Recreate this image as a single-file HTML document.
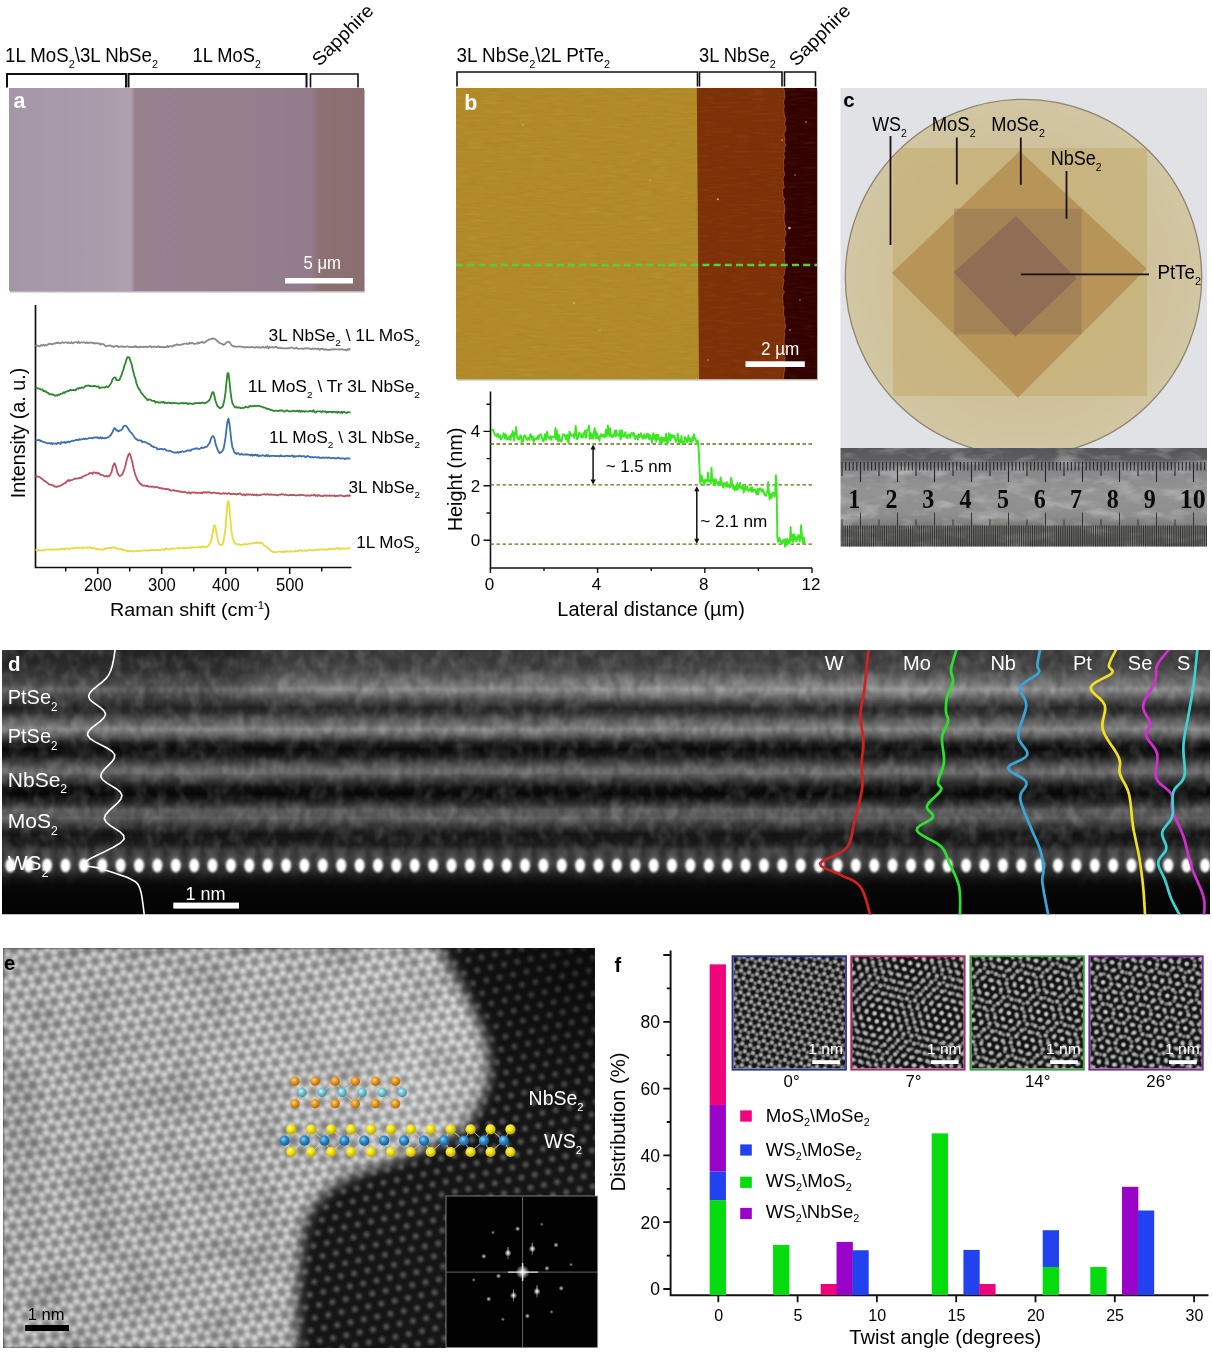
<!DOCTYPE html>
<html><head><meta charset="utf-8"><title>Figure</title>
<style>
html,body{margin:0;padding:0;background:#fff;}
body{width:1212px;height:1365px;overflow:hidden;}
svg{display:block;}
svg text{font-family:'Liberation Sans', Arial, Helvetica, sans-serif;}
</style></head>
<body>
<svg width="1212" height="1365" viewBox="0 0 1212 1365">
<rect width="1212" height="1365" fill="#fff"/>
<text x="5" y="61.8" font-size="19.8" textLength="153" lengthAdjust="spacingAndGlyphs">1L MoS<tspan dy="6.34" font-size="11.48">2</tspan><tspan dy="-6.34">\3L NbSe</tspan><tspan dy="6.34" font-size="11.48">2</tspan></text>
<text x="192.6" y="61.5" font-size="19.6" textLength="68.3" lengthAdjust="spacingAndGlyphs">1L MoS<tspan dy="6.27" font-size="11.37">2</tspan></text>
<text x="0" y="0" font-size="18.5" textLength="78" lengthAdjust="spacingAndGlyphs" transform="translate(319.5,67) rotate(-45)">Sapphire</text>
<path d="M7,87.5V74H126V87.5" fill="none" stroke="#111" stroke-width="2"/>
<path d="M128.5,87.5V74H306.5V87.5" fill="none" stroke="#111" stroke-width="2"/>
<path d="M310.5,87.5V74H358V87.5" fill="none" stroke="#111" stroke-width="1.6"/>
<rect x="10" y="89.5" width="355" height="203" fill="#7a6a72" opacity="0.5"/>
<linearGradient id="ga" x1="9" x2="364" y1="0" y2="0" gradientUnits="userSpaceOnUse"><stop offset="0.0000" stop-color="#a596a8"/><stop offset="0.1437" stop-color="#a899aa"/><stop offset="0.2901" stop-color="#aa9cab"/><stop offset="0.3127" stop-color="#ae9fae"/><stop offset="0.3437" stop-color="#ad9fad"/><stop offset="0.3549" stop-color="#98808f"/><stop offset="0.5380" stop-color="#96808e"/><stop offset="0.8197" stop-color="#937c8b"/><stop offset="0.8507" stop-color="#927a8a"/><stop offset="0.8732" stop-color="#8d7170"/><stop offset="1.0000" stop-color="#8b6f6e"/></linearGradient>
<rect x="9" y="88" width="355" height="203" fill="url(#ga)"/>
<text x="13.5" y="108" font-size="21.5" fill="#fff" font-weight="bold">a</text>
<rect x="285" y="278" width="68" height="5.5" fill="#fff"/>
<text x="303.5" y="268.7" font-size="17.5" fill="#fff" textLength="37.5" lengthAdjust="spacingAndGlyphs">5 μm</text>
<path d="M35.5,305V567.5H351.5" fill="none" stroke="#111" stroke-width="1.7"/>
<path d="M65.7,567.5v4M97.7,567.5v6.5M129.7,567.5v4M161.7,567.5v6.5M193.7,567.5v4M225.7,567.5v6.5M257.7,567.5v4M289.7,567.5v6.5M321.7,567.5v4" stroke="#111" stroke-width="1.5"/>
<text x="97.9" y="590.6" font-size="17.5" text-anchor="middle" textLength="27.7" lengthAdjust="spacingAndGlyphs">200</text>
<text x="161.9" y="590.6" font-size="17.5" text-anchor="middle" textLength="27.7" lengthAdjust="spacingAndGlyphs">300</text>
<text x="225.9" y="590.6" font-size="17.5" text-anchor="middle" textLength="27.7" lengthAdjust="spacingAndGlyphs">400</text>
<text x="289.9" y="590.6" font-size="17.5" text-anchor="middle" textLength="27.7" lengthAdjust="spacingAndGlyphs">500</text>
<text x="110.1" y="616.4" font-size="19" textLength="160.5" lengthAdjust="spacingAndGlyphs">Raman shift (cm<tspan dy="-7.22" font-size="11.02">-1</tspan><tspan dy="7.22">)</tspan></text>
<text x="0" y="0" font-size="20.8" textLength="130.7" lengthAdjust="spacingAndGlyphs" transform="translate(24.6,498.3) rotate(-90)">Intensity (a. u.)</text>
<path d="M35.5,346.2L36.5,345.3 37.5,345.6 38.5,345.9 39.5,346.4 40.5,345.7 41.5,344.9 42.5,345.6 43.5,344.8 44.5,345.6 45.5,344.9 46.5,345.5 47.5,344.6 48.5,344.1 49.5,343.7 50.5,344 51.5,344.1 52.5,344.3 53.5,343.7 54.5,343.2 55.5,343.5 56.5,342.6 57.5,343.2 58.5,342.6 59.5,343.4 60.5,343.1 61.5,342.8 62.5,342.2 63.5,342.8 64.5,342.7 65.5,342.4 66.5,342.3 67.5,343.1 68.5,342.4 69.5,342.8 70.5,343.2 71.5,342 72.5,343.3 73.5,343 74.5,342.3 75.5,342.2 76.5,342.1 77.5,343 78.5,341.6 79.5,343 80.5,342.7 81.5,342.3 82.5,342.4 83.5,342.4 84.5,342.5 85.5,343 86.5,342.3 87.5,343 88.5,343 89.5,342.5 90.5,342.9 91.5,342.5 92.5,342.8 93.5,343 94.5,343.7 95.5,343.1 96.5,343.2 97.5,343.4 98.5,343.5 99.5,343.3 100.5,344.7 101.5,343.8 102.5,344.1 103.5,344.2 104.5,345 105.5,346.1 106.5,346.3 107.5,345.7 108.5,345.6 109.5,345.7 110.5,345.4 111.5,346.3 112.5,346.1 113.5,347.2 114.5,346.3 115.5,346.1 116.5,345.9 117.5,346 118.5,347 119.5,346.9 120.5,346.3 121.5,346.2 122.5,346.9 123.5,346.7 124.5,346.9 125.5,346.8 126.5,346.5 127.5,346.1 128.5,346.9 129.5,346.9 130.5,346.9 131.5,347.2 132.5,347.2 133.5,346.6 134.5,347.1 135.5,346 136.5,347.1 137.5,346.9 138.5,347.3 139.5,347.3 140.5,346.5 141.5,346.8 142.5,347.3 143.5,346.7 144.5,346.9 145.5,346.7 146.5,347.2 147.5,347.1 148.5,346.6 149.5,346.4 150.5,346.1 151.5,347.3 152.5,346.8 153.5,346.7 154.5,346.8 155.5,346.6 156.5,347.2 157.5,347.2 158.5,346.1 159.5,347 160.5,347 161.5,346.8 162.5,347 163.5,347.6 164.5,347 165.5,347.2 166.5,347.1 167.5,345.9 168.5,347.1 169.5,346.4 170.5,346 171.5,346.3 172.5,346.7 173.5,345.3 174.5,345.2 175.5,345.4 176.5,344.4 177.5,344.5 178.5,344.8 179.5,344.9 180.5,344.6 181.5,344.6 182.5,344.5 183.5,343.8 184.5,343.7 185.5,343.6 186.5,343.5 187.5,344 188.5,343.8 189.5,342.6 190.5,343.6 191.5,342.9 192.5,342.9 193.5,343.8 194.5,343.8 195.5,343.6 196.5,343.4 197.5,343.7 198.5,342.4 199.5,343.1 200.5,342.4 201.5,342.3 202.5,341.7 203.5,342.8 204.5,342.6 205.5,341.9 206.5,340.9 207.5,340.7 208.5,339.6 209.5,339.3 210.5,339.4 211.5,338.9 212.5,338.3 213.5,338.5 214.5,338.6 215.5,339.6 216.5,340.2 217.5,341.4 218.5,341.7 219.5,343.1 220.5,343.2 221.5,343.8 222.5,344 223.5,344.9 224.5,344.5 225.5,343.3 226.5,342.4 227.5,342.1 228.5,341.6 229.5,342.2 230.5,343.6 231.5,345.4 232.5,345.6 233.5,346.7 234.5,346.2 235.5,346.5 236.5,346.8 237.5,346.7 238.5,346.6 239.5,346.4 240.5,346.7 241.5,346.7 242.5,346.9 243.5,347.3 244.5,347.1 245.5,347.4 246.5,347 247.5,347.2 248.5,347.2 249.5,347.3 250.5,347.4 251.5,346.8 252.5,347.2 253.5,347.2 254.5,347.6 255.5,347.5 256.5,346.9 257.5,347.3 258.5,347.5 259.5,347.2 260.5,347.8 261.5,347.4 262.5,346.8 263.5,347.4 264.5,347.7 265.5,347 266.5,347.7 267.5,346.3 268.5,348.3 269.5,346.9 270.5,347.3 271.5,347.4 272.5,347 273.5,347.7 274.5,347.2 275.5,347.1 276.5,346.7 277.5,348 278.5,348.2 279.5,347.7 280.5,347.9 281.5,348.5 282.5,348 283.5,348.4 284.5,348.3 285.5,348.3 286.5,348.2 287.5,348.5 288.5,348.2 289.5,348.2 290.5,347.8 291.5,347.3 292.5,347.8 293.5,348.1 294.5,348.7 295.5,348.2 296.5,347.5 297.5,348.6 298.5,348.9 299.5,348.6 300.5,348.6 301.5,348.6 302.5,348.5 303.5,349.1 304.5,348.3 305.5,348.3 306.5,348.1 307.5,348.5 308.5,348.4 309.5,348.5 310.5,348.9 311.5,349.2 312.5,348.3 313.5,348.9 314.5,348.6 315.5,348.7 316.5,348.8 317.5,349.1 318.5,348.4 319.5,349.7 320.5,349 321.5,348.8 322.5,348.5 323.5,349.6 324.5,349.4 325.5,349.5 326.5,349.3 327.5,349.9 328.5,349.9 329.5,350.1 330.5,349.4 331.5,349.7 332.5,349.2 333.5,349.4 334.5,349.2 335.5,349.4 336.5,349.4 337.5,349.4 338.5,349.4 339.5,349.5 340.5,349.3 341.5,349.2 342.5,349.3 343.5,349.7 344.5,349.8 345.5,349.9 346.5,350.5 347.5,349.1 348.5,349.8 349.5,349 350.5,349.3" fill="none" stroke="#8a8a8a" stroke-width="1.8" stroke-linejoin="round"/>
<path d="M35.5,387.3L36.5,387.7 37.5,388.4 38.5,388.7 39.5,388.6 40.5,389.3 41.5,389.6 42.5,389.4 43.5,391.2 44.5,390.8 45.5,391.5 46.5,392.3 47.5,392.5 48.5,393.2 49.5,394.3 50.5,394 51.5,394.5 52.5,394.4 53.5,394.6 54.5,395.6 55.5,395.6 56.5,395.2 57.5,395.8 58.5,394.5 59.5,394.8 60.5,393.9 61.5,393.7 62.5,393.5 63.5,392.3 64.5,393 65.5,391.9 66.5,391.6 67.5,391.1 68.5,391 69.5,390.1 70.5,389.9 71.5,390.4 72.5,390.2 73.5,390 74.5,390.1 75.5,390.4 76.5,389.1 77.5,388.3 78.5,388.8 79.5,387.9 80.5,388.2 81.5,387.5 82.5,387.6 83.5,388 84.5,386.9 85.5,385.9 86.5,385.9 87.5,385.7 88.5,385.4 89.5,386.1 90.5,385.9 91.5,386.3 92.5,386.3 93.5,386 94.5,386 95.5,386.2 96.5,386.6 97.5,386.6 98.5,386.4 99.5,388.2 100.5,387.9 101.5,387.4 102.5,387.3 103.5,387.4 104.5,387.6 105.5,387.2 106.5,386.3 107.5,387.1 108.5,386.9 109.5,385.5 110.5,384.1 111.5,382.6 112.5,379.4 113.5,378 114.5,377.5 115.5,377.7 116.5,380.1 117.5,380.1 118.5,380.2 119.5,379.9 120.5,377.3 121.5,375.2 122.5,371.8 123.5,369.5 124.5,365.2 125.5,363.1 126.5,359.3 127.5,357.2 128.5,357.1 129.5,358 130.5,361.2 131.5,363.5 132.5,368.2 133.5,372.6 134.5,376.4 135.5,379.1 136.5,383.5 137.5,386.1 138.5,388.5 139.5,389.5 140.5,391.4 141.5,393.2 142.5,394.1 143.5,395.5 144.5,396.6 145.5,397.8 146.5,398.7 147.5,400.3 148.5,399.5 149.5,399.6 150.5,399.6 151.5,400.6 152.5,400.8 153.5,400.9 154.5,400.8 155.5,402.6 156.5,402 157.5,402.1 158.5,402.7 159.5,402.3 160.5,402.6 161.5,402 162.5,402.6 163.5,401.8 164.5,403.2 165.5,402.9 166.5,402.8 167.5,403 168.5,402.4 169.5,403 170.5,403 171.5,403.4 172.5,402.8 173.5,402.9 174.5,403.1 175.5,403.2 176.5,403.2 177.5,403.3 178.5,403.6 179.5,403.3 180.5,403.4 181.5,403.2 182.5,402.7 183.5,403.5 184.5,403.1 185.5,403.2 186.5,402.8 187.5,404 188.5,403.8 189.5,403.2 190.5,403.6 191.5,403.7 192.5,404.2 193.5,403.4 194.5,403.7 195.5,403 196.5,403.2 197.5,403.2 198.5,403.1 199.5,402.8 200.5,403.4 201.5,402.7 202.5,402.7 203.5,402.9 204.5,403.4 205.5,403.1 206.5,402.4 207.5,401.7 208.5,400.9 209.5,400 210.5,397.8 211.5,394.8 212.5,392.1 213.5,392.4 214.5,396.3 215.5,400.8 216.5,403.6 217.5,406.1 218.5,407 219.5,407.7 220.5,408.4 221.5,407.2 222.5,406.9 223.5,403.9 224.5,399.6 225.5,392.3 226.5,382.2 227.5,373.2 228.5,373.3 229.5,381.6 230.5,391.5 231.5,398.9 232.5,403.6 233.5,405.1 234.5,406.9 235.5,407.5 236.5,407 237.5,407.7 238.5,407.6 239.5,407.3 240.5,408 241.5,408.2 242.5,407.7 243.5,407.9 244.5,407.6 245.5,406.6 246.5,407.2 247.5,407.4 248.5,407.4 249.5,406.2 250.5,405.9 251.5,406.5 252.5,406.1 253.5,406.1 254.5,405.7 255.5,406.1 256.5,406.1 257.5,405.7 258.5,405.9 259.5,406 260.5,406.5 261.5,406.7 262.5,407 263.5,407.5 264.5,407.7 265.5,407.9 266.5,408.8 267.5,408.7 268.5,408.8 269.5,409.3 270.5,410 271.5,410.1 272.5,410.4 273.5,410.8 274.5,411 275.5,410.7 276.5,410.6 277.5,410.9 278.5,411.2 279.5,410.3 280.5,410.6 281.5,410.4 282.5,410.6 283.5,411.2 284.5,411.7 285.5,410.9 286.5,410.5 287.5,410.5 288.5,411.3 289.5,411.4 290.5,411.4 291.5,411.3 292.5,410.8 293.5,410.7 294.5,411.1 295.5,411.4 296.5,410.9 297.5,410.7 298.5,411.6 299.5,410.6 300.5,411.8 301.5,410.8 302.5,411.5 303.5,411.1 304.5,411.8 305.5,411.2 306.5,411.4 307.5,411.6 308.5,411.3 309.5,410.9 310.5,411.2 311.5,411.2 312.5,411.6 313.5,410.1 314.5,412.1 315.5,412.5 316.5,411.7 317.5,411.3 318.5,411.4 319.5,411.4 320.5,411.3 321.5,412.3 322.5,410.9 323.5,411.5 324.5,411.8 325.5,411.3 326.5,412.6 327.5,411.8 328.5,412 329.5,411.8 330.5,411.9 331.5,411.7 332.5,412.5 333.5,411.7 334.5,411.8 335.5,412.4 336.5,411.7 337.5,412.9 338.5,412 339.5,412.1 340.5,412.9 341.5,411.6 342.5,413 343.5,411.9 344.5,412 345.5,412.6 346.5,413 347.5,412.2 348.5,412.3 349.5,412.3 350.5,412.2" fill="none" stroke="#2a8a2a" stroke-width="1.8" stroke-linejoin="round"/>
<path d="M35.5,440.4L36.5,440.3 37.5,440.1 38.5,440.2 39.5,439.8 40.5,441.1 41.5,441 42.5,441.6 43.5,442 44.5,442.1 45.5,442.7 46.5,442.8 47.5,443.4 48.5,443.1 49.5,443.1 50.5,443.8 51.5,443.1 52.5,444 53.5,443.3 54.5,443.3 55.5,443.7 56.5,444.1 57.5,442.9 58.5,443 59.5,443.4 60.5,444 61.5,442 62.5,442.6 63.5,442.3 64.5,441.9 65.5,443.1 66.5,442.2 67.5,442 68.5,441.6 69.5,442.1 70.5,441.6 71.5,441 72.5,440.7 73.5,441 74.5,440.6 75.5,440 76.5,440 77.5,439.7 78.5,440.3 79.5,439 80.5,439.7 81.5,439.3 82.5,439.1 83.5,438.7 84.5,439.2 85.5,438.5 86.5,439 87.5,438.6 88.5,438.3 89.5,437.9 90.5,438.1 91.5,438.1 92.5,438.4 93.5,437.4 94.5,437.6 95.5,437.5 96.5,437.6 97.5,437.1 98.5,438.2 99.5,438.4 100.5,437.2 101.5,438.5 102.5,437.7 103.5,438.1 104.5,438.4 105.5,437.7 106.5,438 107.5,437.4 108.5,437.2 109.5,436.3 110.5,435.5 111.5,433.8 112.5,432.2 113.5,429.7 114.5,428.1 115.5,428.7 116.5,430.5 117.5,430.5 118.5,431.4 119.5,430.7 120.5,430.4 121.5,429.7 122.5,428.8 123.5,426.4 124.5,425.8 125.5,425.7 126.5,426.3 127.5,427.7 128.5,429.1 129.5,431 130.5,432.1 131.5,433 132.5,434.3 133.5,435.7 134.5,437.2 135.5,438.8 136.5,438.8 137.5,440.1 138.5,440.3 139.5,440.2 140.5,440.7 141.5,440.5 142.5,442.3 143.5,441.8 144.5,441.8 145.5,442.4 146.5,442.7 147.5,443.3 148.5,443.9 149.5,444.2 150.5,444.7 151.5,446.2 152.5,446.2 153.5,447 154.5,447.1 155.5,447.5 156.5,447.8 157.5,449.4 158.5,449.1 159.5,449.1 160.5,448.9 161.5,448.8 162.5,449.2 163.5,449.6 164.5,449 165.5,449.5 166.5,450.6 167.5,450.7 168.5,450.9 169.5,450.9 170.5,451 171.5,451.6 172.5,451.9 173.5,452.3 174.5,452.6 175.5,452.5 176.5,452.6 177.5,452 178.5,452.8 179.5,452.1 180.5,452 181.5,451.9 182.5,451.1 183.5,451.9 184.5,451.7 185.5,451.4 186.5,450.9 187.5,450.2 188.5,450.7 189.5,450.2 190.5,450.9 191.5,449.4 192.5,449.4 193.5,449.1 194.5,448.8 195.5,448.4 196.5,448.5 197.5,448.5 198.5,449.1 199.5,448.9 200.5,448.5 201.5,447.4 202.5,447.8 203.5,447.8 204.5,447.5 205.5,446.6 206.5,447 207.5,445.8 208.5,444.4 209.5,443.4 210.5,440.4 211.5,437.5 212.5,436.2 213.5,436.2 214.5,438.5 215.5,443.6 216.5,446.6 217.5,449.4 218.5,451.2 219.5,453.1 220.5,452.6 221.5,452.1 222.5,450.7 223.5,449 224.5,444.1 225.5,437.7 226.5,428.8 227.5,421 228.5,418.7 229.5,424.2 230.5,433 231.5,442 232.5,447.6 233.5,449.7 234.5,452.6 235.5,452.8 236.5,454.1 237.5,453.1 238.5,453.2 239.5,454.5 240.5,454.6 241.5,453.7 242.5,454.7 243.5,454.7 244.5,454.6 245.5,454.3 246.5,454.5 247.5,454.5 248.5,454.7 249.5,454.8 250.5,455.4 251.5,454.4 252.5,455.9 253.5,454.8 254.5,455.3 255.5,454.7 256.5,455.5 257.5,454.8 258.5,456.3 259.5,455.5 260.5,455.9 261.5,455.6 262.5,455.2 263.5,455.5 264.5,456 265.5,456 266.5,455 267.5,456 268.5,455.2 269.5,456.5 270.5,456.2 271.5,455.8 272.5,455.9 273.5,455.8 274.5,455.9 275.5,456.1 276.5,456 277.5,456.2 278.5,455.9 279.5,456.5 280.5,455.2 281.5,456 282.5,456.1 283.5,456.1 284.5,456.5 285.5,455.9 286.5,455.7 287.5,456 288.5,455.9 289.5,456.4 290.5,456.2 291.5,455.7 292.5,455.5 293.5,457 294.5,455.9 295.5,456.8 296.5,456.2 297.5,456.2 298.5,456.4 299.5,455.6 300.5,456.1 301.5,456.6 302.5,456.1 303.5,456.2 304.5,456.1 305.5,457.3 306.5,456.7 307.5,455.9 308.5,456.3 309.5,456.9 310.5,457 311.5,457.3 312.5,457 313.5,457.5 314.5,457.2 315.5,457.2 316.5,457.3 317.5,457.5 318.5,457 319.5,457.9 320.5,457.9 321.5,457.7 322.5,457.9 323.5,457.3 324.5,457.9 325.5,457.7 326.5,457.5 327.5,458 328.5,457.5 329.5,457.6 330.5,458.1 331.5,458.3 332.5,457.9 333.5,457.8 334.5,458.3 335.5,458.2 336.5,458.3 337.5,457.9 338.5,457.6 339.5,458.1 340.5,458.7 341.5,458.4 342.5,458.3 343.5,458.3 344.5,459.1 345.5,458.4 346.5,458.8 347.5,458.2 348.5,458.4 349.5,458.6 350.5,458.6" fill="none" stroke="#3d6fb5" stroke-width="1.8" stroke-linejoin="round"/>
<path d="M35.5,476.8L36.5,476.2 37.5,476.5 38.5,476.9 39.5,476.8 40.5,477.7 41.5,478.6 42.5,478.9 43.5,480.2 44.5,480.9 45.5,481.4 46.5,482.2 47.5,482.8 48.5,484.1 49.5,484.5 50.5,484.7 51.5,484.9 52.5,485.4 53.5,485.5 54.5,486.6 55.5,486.3 56.5,487 57.5,486.5 58.5,486.3 59.5,485.9 60.5,485.6 61.5,485.2 62.5,484.4 63.5,483.8 64.5,483.2 65.5,483.1 66.5,481.7 67.5,481 68.5,480 69.5,481 70.5,480.1 71.5,480.2 72.5,479.8 73.5,479.3 74.5,478.9 75.5,478.5 76.5,478.6 77.5,478.6 78.5,478.2 79.5,478.1 80.5,477.6 81.5,477.8 82.5,476.6 83.5,476.4 84.5,475.8 85.5,475.5 86.5,475 87.5,474.5 88.5,474.2 89.5,473.2 90.5,473.2 91.5,473 92.5,473.9 93.5,472.4 94.5,472.5 95.5,473 96.5,472.6 97.5,473.7 98.5,473.1 99.5,473.5 100.5,474.9 101.5,474.7 102.5,475.2 103.5,475.4 104.5,476.5 105.5,476.1 106.5,476 107.5,476.7 108.5,475.9 109.5,476 110.5,474.1 111.5,472.4 112.5,467.9 113.5,464.9 114.5,463.3 115.5,465.1 116.5,469.1 117.5,472.9 118.5,474.7 119.5,476.1 120.5,475.8 121.5,475.3 122.5,473.8 123.5,471.7 124.5,468.8 125.5,465.5 126.5,460.8 127.5,457.6 128.5,454.4 129.5,453.4 130.5,455.7 131.5,459.2 132.5,463 133.5,468.2 134.5,472 135.5,475.3 136.5,477.6 137.5,480.2 138.5,481.4 139.5,482.9 140.5,484.1 141.5,484.4 142.5,485.6 143.5,485.7 144.5,485.5 145.5,485.8 146.5,486.3 147.5,485.7 148.5,486.5 149.5,486.6 150.5,486.4 151.5,486.9 152.5,486.7 153.5,486.6 154.5,487.5 155.5,486.9 156.5,486.8 157.5,487.4 158.5,487.6 159.5,488.1 160.5,487.9 161.5,488.6 162.5,488.5 163.5,488.7 164.5,488.9 165.5,489.4 166.5,488.8 167.5,489.2 168.5,489.2 169.5,489.9 170.5,490.3 171.5,490.8 172.5,490.3 173.5,490.1 174.5,490.8 175.5,490.5 176.5,491.1 177.5,491 178.5,491.5 179.5,491.5 180.5,491.5 181.5,492 182.5,492.2 183.5,492.2 184.5,491.6 185.5,492.4 186.5,492.5 187.5,493 188.5,492.3 189.5,492.5 190.5,493.5 191.5,492.7 192.5,492.5 193.5,492.7 194.5,492.4 195.5,492.9 196.5,492.7 197.5,493.1 198.5,492.5 199.5,492.9 200.5,493.2 201.5,492.4 202.5,493.2 203.5,492.2 204.5,492.6 205.5,492.2 206.5,492.8 207.5,492.2 208.5,492.4 209.5,492.2 210.5,492.9 211.5,492.8 212.5,493 213.5,492.5 214.5,492.6 215.5,492.8 216.5,493.3 217.5,493 218.5,493.1 219.5,493.4 220.5,493.8 221.5,493.7 222.5,493.7 223.5,493.1 224.5,493.7 225.5,493.2 226.5,493.8 227.5,493.8 228.5,493.1 229.5,493.3 230.5,494.1 231.5,493.9 232.5,494.2 233.5,493.7 234.5,494.1 235.5,493.9 236.5,494.6 237.5,494 238.5,494.2 239.5,493.3 240.5,493.7 241.5,494.4 242.5,495 243.5,494.2 244.5,495 245.5,495.4 246.5,494.1 247.5,494.7 248.5,494.4 249.5,494.7 250.5,494.5 251.5,494.9 252.5,494.2 253.5,495.1 254.5,494.7 255.5,495.1 256.5,494.5 257.5,495.5 258.5,495.2 259.5,495.1 260.5,495.2 261.5,494.6 262.5,494.3 263.5,494.3 264.5,494.1 265.5,494.7 266.5,494.7 267.5,494 268.5,494.5 269.5,494.9 270.5,494.5 271.5,494.3 272.5,494.7 273.5,494.9 274.5,494.8 275.5,494.8 276.5,495.2 277.5,495.4 278.5,494.9 279.5,494.7 280.5,494.7 281.5,494.1 282.5,494.4 283.5,494.7 284.5,495 285.5,494.5 286.5,495.1 287.5,495.2 288.5,495.5 289.5,495 290.5,495 291.5,495 292.5,495.1 293.5,494.9 294.5,495 295.5,495.4 296.5,495.4 297.5,495.1 298.5,495.1 299.5,495.3 300.5,494.9 301.5,494.8 302.5,495.1 303.5,495.1 304.5,495.3 305.5,495.6 306.5,495.4 307.5,495.8 308.5,495.3 309.5,495.8 310.5,495.6 311.5,495.1 312.5,495.4 313.5,495.1 314.5,494.7 315.5,495.9 316.5,495.4 317.5,496 318.5,495 319.5,495.4 320.5,495.9 321.5,495.8 322.5,496.1 323.5,496 324.5,495.3 325.5,495.3 326.5,496.1 327.5,495.5 328.5,495.8 329.5,495.4 330.5,495.8 331.5,495.7 332.5,495.7 333.5,495.9 334.5,495.4 335.5,496.4 336.5,495.8 337.5,495.6 338.5,495.9 339.5,495.5 340.5,495.4 341.5,495.5 342.5,495.9 343.5,496.1 344.5,496.4 345.5,495.9 346.5,495.9 347.5,495.3 348.5,495.9 349.5,495.3 350.5,496.4" fill="none" stroke="#c0505e" stroke-width="1.8" stroke-linejoin="round"/>
<path d="M35.5,550.6L36.5,549.9 37.5,550.9 38.5,549.7 39.5,550.3 40.5,550.5 41.5,550.5 42.5,550.1 43.5,550.7 44.5,549.9 45.5,549.7 46.5,549.6 47.5,549.7 48.5,549.2 49.5,549.7 50.5,549.6 51.5,549.9 52.5,549.7 53.5,549.6 54.5,549.3 55.5,549.7 56.5,549.4 57.5,549.2 58.5,549.9 59.5,549.1 60.5,549 61.5,548.6 62.5,549.2 63.5,548.5 64.5,549.6 65.5,548.7 66.5,548.5 67.5,548.3 68.5,549.2 69.5,548.6 70.5,548.3 71.5,548.4 72.5,548.7 73.5,547.9 74.5,548.2 75.5,547.8 76.5,547.5 77.5,548.3 78.5,547.9 79.5,547.5 80.5,547.7 81.5,547.7 82.5,548.4 83.5,547.8 84.5,547.7 85.5,547.5 86.5,547.6 87.5,547.8 88.5,547.9 89.5,546.9 90.5,547.7 91.5,547.9 92.5,548.4 93.5,548 94.5,548.4 95.5,549 96.5,549.2 97.5,549 98.5,548.9 99.5,549.5 100.5,549.7 101.5,549.7 102.5,549.5 103.5,549.6 104.5,548.6 105.5,549 106.5,548 107.5,548.3 108.5,548.1 109.5,548 110.5,547.8 111.5,548 112.5,547.4 113.5,547.7 114.5,547.4 115.5,548.1 116.5,548.3 117.5,548.5 118.5,549 119.5,548.4 120.5,549 121.5,549 122.5,550 123.5,549.7 124.5,550.4 125.5,550.7 126.5,550.2 127.5,551.3 128.5,551.2 129.5,550.7 130.5,551.1 131.5,551 132.5,551.6 133.5,551.1 134.5,551.4 135.5,551.1 136.5,551.2 137.5,550.7 138.5,550.7 139.5,551.2 140.5,550.8 141.5,550.7 142.5,550.6 143.5,550.4 144.5,550.7 145.5,550.5 146.5,550.4 147.5,550.5 148.5,550.5 149.5,550.5 150.5,549.8 151.5,550.3 152.5,549.7 153.5,550.4 154.5,550 155.5,550.5 156.5,549.9 157.5,549.9 158.5,550 159.5,550.2 160.5,549.9 161.5,549.7 162.5,549.3 163.5,549 164.5,550.1 165.5,549.2 166.5,548 167.5,549.2 168.5,549.6 169.5,549.4 170.5,548.9 171.5,548.6 172.5,548.8 173.5,548.7 174.5,548.7 175.5,548.7 176.5,548.4 177.5,548.2 178.5,548.4 179.5,547.9 180.5,548.2 181.5,548.4 182.5,547.6 183.5,548.4 184.5,547.7 185.5,548.5 186.5,547.9 187.5,547.8 188.5,548.3 189.5,547.5 190.5,547.3 191.5,548 192.5,547.3 193.5,547.1 194.5,547.4 195.5,547.3 196.5,547.3 197.5,547.4 198.5,547.1 199.5,547.1 200.5,547.7 201.5,546.5 202.5,547.6 203.5,546.5 204.5,546.5 205.5,547.5 206.5,546.7 207.5,546.3 208.5,545.8 209.5,544.3 210.5,542.1 211.5,539.1 212.5,534 213.5,527.7 214.5,525.2 215.5,527.5 216.5,533 217.5,538.1 218.5,542.5 219.5,544.5 220.5,545 221.5,545.1 222.5,544.5 223.5,541.3 224.5,535.4 225.5,527.4 226.5,514.7 227.5,503.2 228.5,500.9 229.5,508.7 230.5,520.9 231.5,531.4 232.5,537.4 233.5,540.4 234.5,542.8 235.5,543.8 236.5,544 237.5,544.4 238.5,544.2 239.5,544.6 240.5,545.3 241.5,544.8 242.5,544.7 243.5,544.6 244.5,544.2 245.5,544 246.5,544.7 247.5,544.1 248.5,543.9 249.5,543.5 250.5,543.5 251.5,543.7 252.5,543.1 253.5,543.3 254.5,542.7 255.5,543.2 256.5,542.3 257.5,543 258.5,542.3 259.5,543.5 260.5,542.7 261.5,543 262.5,543.5 263.5,544.7 264.5,545.6 265.5,546.4 266.5,546.6 267.5,547.8 268.5,548.6 269.5,549.7 270.5,550.7 271.5,551.1 272.5,551.8 273.5,552.1 274.5,551.5 275.5,552.2 276.5,552.2 277.5,551.9 278.5,551.7 279.5,551.7 280.5,551.9 281.5,551.9 282.5,551.6 283.5,552.1 284.5,551.2 285.5,551.9 286.5,550.8 287.5,551.7 288.5,551.4 289.5,551.6 290.5,551.2 291.5,551.7 292.5,551.3 293.5,551.3 294.5,551.7 295.5,550.8 296.5,551.4 297.5,550.8 298.5,551.2 299.5,550.1 300.5,550.5 301.5,550.3 302.5,551 303.5,550.7 304.5,550.4 305.5,550.8 306.5,551 307.5,550.2 308.5,550.5 309.5,550 310.5,550.3 311.5,549.8 312.5,550.3 313.5,550.5 314.5,549.8 315.5,550.4 316.5,549.5 317.5,549.6 318.5,549.8 319.5,549.5 320.5,549.1 321.5,549.7 322.5,549.5 323.5,549.7 324.5,549.3 325.5,550 326.5,549.2 327.5,549.7 328.5,549 329.5,549.1 330.5,548.7 331.5,548.7 332.5,549.2 333.5,549.1 334.5,549 335.5,548.5 336.5,548.5 337.5,548.1 338.5,547.9 339.5,549.5 340.5,548.5 341.5,548.3 342.5,548.9 343.5,548.3 344.5,548.6 345.5,548.8 346.5,548.4 347.5,548.4 348.5,548.1 349.5,548.2 350.5,548.4" fill="none" stroke="#e8dc3a" stroke-width="1.8" stroke-linejoin="round"/>
<text x="420" y="340.8" font-size="16.5" text-anchor="end" textLength="151.5" lengthAdjust="spacingAndGlyphs">3L NbSe<tspan dy="5.28" font-size="9.57">2</tspan><tspan dy="-5.28"> \ 1L MoS</tspan><tspan dy="5.28" font-size="9.57">2</tspan></text>
<text x="420" y="392.4" font-size="16.5" text-anchor="end" textLength="172.3" lengthAdjust="spacingAndGlyphs">1L MoS<tspan dy="5.28" font-size="9.57">2</tspan><tspan dy="-5.28"> \ Tr 3L NbSe</tspan><tspan dy="5.28" font-size="9.57">2</tspan></text>
<text x="420" y="443" font-size="16.5" text-anchor="end" textLength="151" lengthAdjust="spacingAndGlyphs">1L MoS<tspan dy="5.28" font-size="9.57">2</tspan><tspan dy="-5.28"> \ 3L NbSe</tspan><tspan dy="5.28" font-size="9.57">2</tspan></text>
<text x="420" y="492.5" font-size="16.5" text-anchor="end" textLength="71.5" lengthAdjust="spacingAndGlyphs">3L NbSe<tspan dy="5.28" font-size="9.57">2</tspan></text>
<text x="420" y="547.5" font-size="16.5" text-anchor="end" textLength="63.8" lengthAdjust="spacingAndGlyphs">1L MoS<tspan dy="5.28" font-size="9.57">2</tspan></text>
<text x="456.5" y="61.5" font-size="19.8" textLength="153.5" lengthAdjust="spacingAndGlyphs">3L NbSe<tspan dy="6.34" font-size="11.48">2</tspan><tspan dy="-6.34">\2L PtTe</tspan><tspan dy="6.34" font-size="11.48">2</tspan></text>
<text x="699" y="61.5" font-size="19.8" textLength="76.6" lengthAdjust="spacingAndGlyphs">3L NbSe<tspan dy="6.34" font-size="11.48">2</tspan></text>
<text x="0" y="0" font-size="18.5" textLength="78" lengthAdjust="spacingAndGlyphs" transform="translate(796.5,67) rotate(-45)">Sapphire</text>
<path d="M457,86.5V72H697.5V86.5" fill="none" stroke="#111" stroke-width="1.6"/>
<path d="M699.5,86.5V72H782V86.5" fill="none" stroke="#111" stroke-width="1.6"/>
<path d="M784.5,86.5V72H815.5V86.5" fill="none" stroke="#111" stroke-width="1.6"/>
<rect x="457" y="89.5" width="361" height="291" fill="#6a5a40" opacity="0.45"/>
<rect x="456" y="88" width="361" height="291" fill="#320101"/>
<path d="M456,88L783.0,88.0 784.6,91.0 784.5,94.0 785.0,97.0 784.0,100.0 783.4,103.0 784.5,106.0 783.8,109.0 784.1,112.0 784.3,115.0 785.3,118.0 785.4,121.0 784.4,124.0 785.9,127.0 785.9,130.0 784.3,133.0 784.1,136.0 785.1,139.0 784.2,142.0 786.1,145.0 784.1,148.0 785.1,151.0 783.6,154.0 784.7,157.0 783.8,160.0 783.6,163.0 784.0,166.0 783.3,169.0 784.2,172.0 784.6,175.0 783.1,178.0 783.3,181.0 783.5,184.0 784.4,187.0 782.5,190.0 782.9,193.0 782.8,196.0 784.7,199.0 783.3,202.0 784.6,205.0 784.9,208.0 785.1,211.0 784.2,214.0 784.1,217.0 784.1,220.0 784.6,223.0 785.7,226.0 784.4,229.0 786.1,232.0 785.9,235.0 784.3,238.0 784.5,241.0 785.5,244.0 784.3,247.0 783.9,250.0 784.5,253.0 784.6,256.0 784.2,259.0 784.8,262.0 784.8,265.0 785.3,268.0 784.5,271.0 784.7,274.0 782.8,277.0 784.1,280.0 783.6,283.0 783.0,286.0 782.4,289.0 784.6,292.0 782.7,295.0 782.6,298.0 783.0,301.0 782.9,304.0 784.0,307.0 783.8,310.0 783.3,313.0 784.1,316.0 785.0,319.0 784.4,322.0 785.6,325.0 785.3,328.0 784.2,331.0 784.9,334.0 784.3,337.0 784.2,340.0 784.1,343.0 785.7,346.0 784.4,349.0 786.1,352.0 784.0,355.0 785.4,358.0 784.4,361.0 783.9,364.0 784.9,367.0 785.0,370.0 783.9,373.0 783.8,376.0 783.2,379.0 785.0,379.0L456,379Z" fill="#7e3008"/>
<path d="M783.0,88.0L784.6,91.0 784.5,94.0 785.0,97.0 784.0,100.0 783.4,103.0 784.5,106.0 783.8,109.0 784.1,112.0 784.3,115.0 785.3,118.0 785.4,121.0 784.4,124.0 785.9,127.0 785.9,130.0 784.3,133.0 784.1,136.0 785.1,139.0 784.2,142.0 786.1,145.0 784.1,148.0 785.1,151.0 783.6,154.0 784.7,157.0 783.8,160.0 783.6,163.0 784.0,166.0 783.3,169.0 784.2,172.0 784.6,175.0 783.1,178.0 783.3,181.0 783.5,184.0 784.4,187.0 782.5,190.0 782.9,193.0 782.8,196.0 784.7,199.0 783.3,202.0 784.6,205.0 784.9,208.0 785.1,211.0 784.2,214.0 784.1,217.0 784.1,220.0 784.6,223.0 785.7,226.0 784.4,229.0 786.1,232.0 785.9,235.0 784.3,238.0 784.5,241.0 785.5,244.0 784.3,247.0 783.9,250.0 784.5,253.0 784.6,256.0 784.2,259.0 784.8,262.0 784.8,265.0 785.3,268.0 784.5,271.0 784.7,274.0 782.8,277.0 784.1,280.0 783.6,283.0 783.0,286.0 782.4,289.0 784.6,292.0 782.7,295.0 782.6,298.0 783.0,301.0 782.9,304.0 784.0,307.0 783.8,310.0 783.3,313.0 784.1,316.0 785.0,319.0 784.4,322.0 785.6,325.0 785.3,328.0 784.2,331.0 784.9,334.0 784.3,337.0 784.2,340.0 784.1,343.0 785.7,346.0 784.4,349.0 786.1,352.0 784.0,355.0 785.4,358.0 784.4,361.0 783.9,364.0 784.9,367.0 785.0,370.0 783.9,373.0 783.8,376.0 783.2,379.0 785.0,379.0" fill="none" stroke="#c87a48" stroke-width="1" opacity="0.45"/>
<path d="M456,88H696.8L699,379H456Z" fill="#b28b28"/>
<filter id="bn" x="0" y="0" width="1" height="1"><feTurbulence type="fractalNoise" baseFrequency="0.06 0.45" numOctaves="2" seed="5"/><feColorMatrix type="matrix" values="0 0 0 0 1  0 0 0 0 0.9  0 0 0 0 0.6  0 0 0 1.6 -0.75"/></filter>
<filter id="bn2" x="0" y="0" width="1" height="1"><feTurbulence type="fractalNoise" baseFrequency="0.06 0.45" numOctaves="2" seed="9"/><feColorMatrix type="matrix" values="0 0 0 0 0.2  0 0 0 0 0.1  0 0 0 0 0  0 0 0 1.6 -0.75"/></filter>
<rect x="456" y="88" width="361" height="291" filter="url(#bn)" opacity="0.08"/><rect x="456" y="88" width="361" height="291" filter="url(#bn2)" opacity="0.14"/>
<circle cx="789.5" cy="228" r="1.3" fill="#f0d8b0" opacity="0.8"/><circle cx="717.8" cy="199.2" r="1" fill="#f0d8b0" opacity="0.8"/><circle cx="806" cy="122" r="0.8" fill="#f0d8b0" opacity="0.8"/><circle cx="790" cy="330" r="0.8" fill="#f0d8b0" opacity="0.8"/><circle cx="800" cy="300" r="0.7" fill="#f0d8b0" opacity="0.8"/><circle cx="760" cy="262" r="0.7" fill="#f0d8b0" opacity="0.8"/><circle cx="574" cy="303" r="0.8" fill="#f0d8b0" opacity="0.8"/><circle cx="523" cy="125" r="0.7" fill="#f0d8b0" opacity="0.8"/><circle cx="650" cy="180" r="0.6" fill="#f0d8b0" opacity="0.8"/><circle cx="795" cy="175" r="0.7" fill="#f0d8b0" opacity="0.8"/><circle cx="708" cy="360" r="0.7" fill="#f0d8b0" opacity="0.8"/><circle cx="600" cy="330" r="0.6" fill="#f0d8b0" opacity="0.8"/><circle cx="782" cy="140" r="0.8" fill="#f0d8b0" opacity="0.8"/><circle cx="783" cy="250" r="0.8" fill="#f0d8b0" opacity="0.8"/>
<line x1="456" y1="265" x2="817" y2="265" stroke="#5ccc3a" stroke-width="2.6" stroke-dasharray="7 4.2"/>
<text x="464.2" y="110" font-size="21.5" fill="#fff" font-weight="bold">b</text>
<rect x="745.5" y="361.3" width="59.3" height="5.7" fill="#fff"/>
<text x="760.9" y="355.2" font-size="17.5" fill="#fff" textLength="38.5" lengthAdjust="spacingAndGlyphs">2 µm</text>
<path d="M490.5,391.6V568H812" fill="none" stroke="#111" stroke-width="1.6"/>
<path d="M490.5,540.2h-7M490.5,513.0h-4M490.5,485.8h-7M490.5,458.6h-4M490.5,431.4h-7M490.5,404.2h-4M490.4,568v5M544.0,568v3M597.6,568v5M651.2,568v3M704.8,568v5M758.4,568v3M812.0,568v5" stroke="#111" stroke-width="1.4"/>
<text x="480.3" y="546.1" font-size="17" text-anchor="end">0</text>
<text x="480.3" y="491.7" font-size="17" text-anchor="end">2</text>
<text x="480.3" y="437.3" font-size="17" text-anchor="end">4</text>
<text x="489.4" y="590.2" font-size="17" text-anchor="middle">0</text>
<text x="596.6" y="590.2" font-size="17" text-anchor="middle">4</text>
<text x="703.8" y="590.2" font-size="17" text-anchor="middle">8</text>
<text x="811" y="590.2" font-size="17" text-anchor="middle">12</text>
<text x="557.3" y="615.7" font-size="20.5" textLength="187.5" lengthAdjust="spacingAndGlyphs">Lateral distance (µm)</text>
<text x="0" y="0" font-size="20.5" textLength="103.6" lengthAdjust="spacingAndGlyphs" transform="translate(461.5,531.3) rotate(-90)">Height (nm)</text>
<line x1="490.5" y1="444" x2="812" y2="444" stroke="#6e6a14" stroke-width="1.3" stroke-dasharray="3.5 2.5"/>
<line x1="490.5" y1="484.9" x2="812" y2="484.9" stroke="#6e6a14" stroke-width="1.3" stroke-dasharray="3.5 2.5"/>
<line x1="490.5" y1="544.2" x2="812" y2="544.2" stroke="#6e6a14" stroke-width="1.3" stroke-dasharray="3.5 2.5"/>
<path d="M491,430.5L491.7,430.4 492.4,429.8 493.1,429.7 493.8,432.4 494.5,433.6 495.2,435.3 495.9,435.4 496.6,436.4 497.3,434.1 498,433.9 498.7,437.5 499.4,436.3 500.1,435.3 500.8,439.5 501.5,438.4 502.2,437.6 502.9,436.4 503.6,433.1 504.3,435 505,438.6 505.7,434.2 506.4,437.1 507.1,439.5 507.8,439 508.5,437.3 509.2,439.2 509.9,436.1 510.6,440 511.3,434.4 512,436 512.7,431.1 513.4,435.8 514.1,440.6 514.8,432.7 515.5,434.5 516.2,427 516.9,436.6 517.6,438.8 518.3,437.7 519,439.4 519.7,438.3 520.4,435.2 521.1,436.4 521.8,442.6 522.5,439.1 523.2,440.9 523.9,437 524.6,435.2 525.3,435.5 526,437.9 526.7,438.8 527.4,440 528.1,437.9 528.8,438.2 529.5,439.8 530.2,434.3 530.9,435.2 531.6,436.2 532.3,439.7 533,436.5 533.7,442 534.4,438.5 535.1,438.3 535.8,439.3 536.5,439.1 537.2,437.2 537.9,436.1 538.6,439.4 539.3,435.3 540,435.1 540.7,434.2 541.4,436.3 542.1,437.6 542.8,440.7 543.5,441.4 544.2,439 544.9,434.1 545.6,436.4 546.3,439.9 547,431.8 547.7,436.5 548.4,436.8 549.1,438.8 549.8,437.1 550.5,436.1 551.2,439.9 551.9,436.8 552.6,436.6 553.3,436.8 554,437 554.7,436.8 555.4,428 556.1,439.1 556.8,430.4 557.5,436.9 558.2,441.3 558.9,435 559.6,438.1 560.3,440.7 561,441.5 561.7,441 562.4,435.9 563.1,434.8 563.8,434.3 564.5,435.2 565.2,436.8 565.9,439.3 566.6,435.6 567.3,434.9 568,442 568.7,442.7 569.4,431.7 570.1,433 570.8,434.1 571.5,435.9 572.2,435.8 572.9,435.5 573.6,434 574.3,438.1 575,434.2 575.7,425.9 576.4,433.7 577.1,439.4 577.8,438.1 578.5,435 579.2,432.4 579.9,433.9 580.6,434 581.3,437.1 582,435.5 582.7,437.7 583.4,433.1 584.1,434.2 584.8,430.4 585.5,437.7 586.2,436.8 586.9,430.1 587.6,430.3 588.3,429.4 589,425.8 589.7,438.9 590.4,433.2 591.1,438.3 591.8,434 592.5,435.4 593.2,438.7 593.9,433.2 594.6,428.1 595.3,432.8 596,438.3 596.7,432.3 597.4,437 598.1,438.4 598.8,436.6 599.5,440.9 600.2,435.9 600.9,434.3 601.6,434.3 602.3,436.6 603,434.9 603.7,435 604.4,437.4 605.1,436 605.8,429.8 606.5,436.1 607.2,434.5 607.9,425.5 608.6,432.7 609.3,436 610,428.2 610.7,435.3 611.4,436.6 612.1,435.4 612.8,437.2 613.5,434.4 614.2,435.5 614.9,430.6 615.6,436.4 616.3,430.5 617,435.2 617.7,434.5 618.4,434.4 619.1,436 619.8,430.5 620.5,439.3 621.2,437.8 621.9,430.1 622.6,435.2 623.3,436.4 624,436 624.7,433.8 625.4,432.2 626.1,437.5 626.8,436.8 627.5,438.1 628.2,434.5 628.9,434.6 629.6,435.1 630.3,437.9 631,433.8 631.7,432.9 632.4,433.7 633.1,435.2 633.8,432.8 634.5,437.4 635.2,439.1 635.9,436.4 636.6,435.6 637.3,435.7 638,439.7 638.7,434.5 639.4,437.2 640.1,435.4 640.8,433.2 641.5,436.8 642.2,436.1 642.9,438.7 643.6,438.5 644.3,434.2 645,436.3 645.7,438.4 646.4,436.6 647.1,433.7 647.8,437.2 648.5,434.1 649.2,439.3 649.9,435.3 650.6,438.3 651.3,438.1 652,442.6 652.7,435.8 653.4,433.1 654.1,438.8 654.8,438.7 655.5,435.2 656.2,441.7 656.9,434.5 657.6,439.4 658.3,434.6 659,438.8 659.7,439.6 660.4,443.7 661.1,437.1 661.8,443.2 662.5,437.8 663.2,438.1 663.9,441 664.6,437.7 665.3,440.5 666,433.8 666.7,439.5 667.4,444.5 668.1,440.9 668.8,433.2 669.5,437 670.2,440.5 670.9,434.7 671.6,437.7 672.3,437.7 673,435.2 673.7,436.7 674.4,435.8 675.1,438.7 675.8,441.7 676.5,440.4 677.2,439.1 677.9,433.7 678.6,442.4 679.3,441.1 680,440 680.7,442.6 681.4,436 682.1,442.1 682.8,444.3 683.5,441.7 684.2,442.9 684.9,436.9 685.6,439.9 686.3,438.9 687,442.2 687.7,439.5 688.4,435.4 689.1,440.9 689.8,438.1 690.5,440.2 691.2,443 691.9,440.9 692.6,437 693.3,440.5 694,434.4 694.7,437.9 695.4,438.6 696.1,440.5 696.8,444.1 697.5,440.5 698.2,442.7 698.9,454 699.6,470.2 700.3,483.4 701,481.4 701.7,475.7 702.4,480.7 703.1,480.1 703.8,484 704.5,484.6 705.2,479.5 705.9,481 706.6,481.3 707.3,481.6 708,472.4 708.7,480.9 709.4,481.3 710.1,480.5 710.8,483.5 711.5,467.6 712.2,481.5 712.9,478.9 713.6,479.6 714.3,485.2 715,484.9 715.7,479.2 716.4,482.4 717.1,482.9 717.8,484.5 718.5,481.9 719.2,485.4 719.9,484.1 720.6,477.5 721.3,480.7 722,482.7 722.7,485.6 723.4,487.7 724.1,483.3 724.8,483 725.5,485.8 726.2,486.1 726.9,482.2 727.6,486.8 728.3,486.5 729,484.6 729.7,487.7 730.4,486.3 731.1,478 731.8,481.3 732.5,485.9 733.2,488.7 733.9,486.2 734.6,490.3 735.3,487.6 736,485.8 736.7,489.9 737.4,483 738.1,489.1 738.8,487.9 739.5,485.9 740.2,483 740.9,488 741.6,487.3 742.3,488.8 743,485.8 743.7,492.6 744.4,490.2 745.1,486.5 745.8,489.7 746.5,489.2 747.2,486.3 747.9,489.3 748.6,491 749.3,489.8 750,489.8 750.7,487.7 751.4,491.9 752.1,487.3 752.8,491.7 753.5,489.9 754.2,490.2 754.9,489.2 755.6,490.4 756.3,494 757,494.1 757.7,489 758.4,494.1 759.1,489.1 759.8,488.4 760.5,488.5 761.2,490.8 761.9,491.5 762.6,489.2 763.3,490.3 764,493.2 764.7,495 765.4,495.2 766.1,495.8 766.8,492.1 767.5,491.1 768.2,481.9 768.9,493.5 769.6,499.4 770.3,493.6 771,496.4 771.7,497.9 772.4,493.2 773.1,492.6 773.8,493.7 774.5,496.8 775.2,491.4 775.9,475.3 776.6,483.9 777.3,537.2 778,541.7 778.7,541.6 779.4,537.7 780.1,540.2 780.8,541.8 781.5,543.8 782.2,542.9 782.9,540.3 783.6,542.4 784.3,539.6 785,546.6 785.7,539.1 786.4,545.1 787.1,539 787.8,544.1 788.5,542.9 789.2,539.9 789.9,542.7 790.6,526.9 791.3,540.4 792,534.4 792.7,541.9 793.4,541.8 794.1,534.1 794.8,538.8 795.5,536.8 796.2,541.5 796.9,540.2 797.6,537.7 798.3,534.9 799,538.1 799.7,541.6 800.4,537.4 801.1,525.1 801.8,534.4 802.5,541 803.2,543.1 803.9,537.5 804.6,544.9" fill="none" stroke="#3ae81e" stroke-width="1.9" stroke-linejoin="round"/>
<line x1="593.1" y1="447.5" x2="593.1" y2="481.6" stroke="#111" stroke-width="1.5"/><path d="M593.1,444.5l-2.6,5h5.2z M593.1,484.6l-2.6,-5h5.2z" fill="#111"/>
<line x1="696.8" y1="489.2" x2="696.8" y2="540.8" stroke="#111" stroke-width="1.5"/><path d="M696.8,486.2l-2.6,5h5.2z M696.8,543.8l-2.6,-5h5.2z" fill="#111"/>
<text x="605.7" y="472.3" font-size="16.8" textLength="66" lengthAdjust="spacingAndGlyphs">~ 1.5 nm</text>
<text x="700.2" y="527.2" font-size="16.8" textLength="67.2" lengthAdjust="spacingAndGlyphs">~ 2.1 nm</text>
<clipPath id="cc"><rect x="840.5" y="88" width="366.5" height="360"/></clipPath>
<rect x="840.5" y="88" width="366.5" height="360" fill="#e1e2e6"/>
<g clip-path="url(#cc)">
<clipPath id="circ"><circle cx="1023.5" cy="277.5" r="178"/></clipPath>
<radialGradient id="wg" cx="1023.5" cy="277.5" r="178" gradientUnits="userSpaceOnUse"><stop offset="0" stop-color="#cdbd94"/><stop offset="0.8" stop-color="#cfc29c"/><stop offset="1" stop-color="#d2c7a3"/></radialGradient>
<circle cx="1023.5" cy="277.5" r="178.2" fill="url(#wg)" stroke="#8e8472" stroke-width="1.3"/>
<g clip-path="url(#circ)">
<rect x="893" y="148" width="254" height="248" fill="#c2aa6a" opacity="0.55"/>
<path d="M1019.8,151L1146.7,268.6L1018,397.8L891.8,273Z" fill="#b79559"/>
<rect x="954.2" y="208.7" width="127.4" height="125.5" fill="#8f7153" opacity="0.5"/>
<path d="M1016,216.1L1076.7,278.5L1015.5,336.7L953.7,272.3Z" fill="#896955" opacity="0.8"/>
</g>
</g>
<linearGradient id="rg" x1="0" x2="0" y1="448" y2="546.5" gradientUnits="userSpaceOnUse"><stop offset="0.0000" stop-color="#56565a"/><stop offset="0.1218" stop-color="#5e5e60"/><stop offset="0.1523" stop-color="#76767a"/><stop offset="0.2437" stop-color="#88888a"/><stop offset="0.4264" stop-color="#939393"/><stop offset="0.6802" stop-color="#8e8e8e"/><stop offset="0.7817" stop-color="#7c7c78"/><stop offset="1.0000" stop-color="#6c6c6a"/></linearGradient>
<rect x="840.5" y="448" width="366.5" height="98.5" fill="url(#rg)"/>
<filter id="rnoise" x="0" y="0" width="1" height="1"><feTurbulence type="fractalNoise" baseFrequency="0.035 0.09" numOctaves="3" seed="4"/><feColorMatrix type="matrix" values="0 0 0 0 1  0 0 0 0 1  0 0 0 0 1  0 0 0 1.8 -0.85"/></filter>
<rect x="840.5" y="448" width="366.5" height="98.5" filter="url(#rnoise)" opacity="0.45"/>
<path d="M842.0,462v14M845.7,462v8.5M849.4,462v8.5M853.1,462v8.5M856.8,462v8.5M860.5,462v20M864.2,462v8.5M867.9,462v8.5M871.6,462v8.5M875.3,462v8.5M879.0,462v14M882.7,462v8.5M886.4,462v8.5M890.1,462v8.5M893.8,462v8.5M897.5,462v20M901.2,462v8.5M904.9,462v8.5M908.6,462v8.5M912.3,462v8.5M916.0,462v14M919.7,462v8.5M923.4,462v8.5M927.1,462v8.5M930.8,462v8.5M934.5,462v20M938.2,462v8.5M941.9,462v8.5M945.6,462v8.5M949.3,462v8.5M953.0,462v14M956.7,462v8.5M960.4,462v8.5M964.1,462v8.5M967.8,462v8.5M971.5,462v20M975.2,462v8.5M978.9,462v8.5M982.6,462v8.5M986.3,462v8.5M990.0,462v14M993.7,462v8.5M997.4,462v8.5M1001.1,462v8.5M1004.8,462v8.5M1008.5,462v20M1012.2,462v8.5M1015.9,462v8.5M1019.6,462v8.5M1023.3,462v8.5M1027.0,462v14M1030.7,462v8.5M1034.4,462v8.5M1038.1,462v8.5M1041.8,462v8.5M1045.5,462v20M1049.2,462v8.5M1052.9,462v8.5M1056.6,462v8.5M1060.3,462v8.5M1064.0,462v14M1067.7,462v8.5M1071.4,462v8.5M1075.1,462v8.5M1078.8,462v8.5M1082.5,462v20M1086.2,462v8.5M1089.9,462v8.5M1093.6,462v8.5M1097.3,462v8.5M1101.0,462v14M1104.7,462v8.5M1108.4,462v8.5M1112.1,462v8.5M1115.8,462v8.5M1119.5,462v20M1123.2,462v8.5M1126.9,462v8.5M1130.6,462v8.5M1134.3,462v8.5M1138.0,462v14M1141.7,462v8.5M1145.4,462v8.5M1149.1,462v8.5M1152.8,462v8.5M1156.5,462v20M1160.2,462v8.5M1163.9,462v8.5M1167.6,462v8.5M1171.3,462v8.5M1175.0,462v14M1178.7,462v8.5M1182.4,462v8.5M1186.1,462v8.5M1189.8,462v8.5M1193.5,462v20M1197.2,462v8.5M1200.9,462v8.5M1204.6,462v8.5" stroke="#262626" stroke-width="1.1"/>
<path d="M842.0,546.5v-27M843.9,546.5v-21M845.7,546.5v-21M847.5,546.5v-21M849.4,546.5v-21M851.2,546.5v-21M853.1,546.5v-21M855.0,546.5v-21M856.8,546.5v-21M858.6,546.5v-21M860.5,546.5v-34M862.4,546.5v-21M864.2,546.5v-21M866.0,546.5v-21M867.9,546.5v-21M869.8,546.5v-21M871.6,546.5v-21M873.5,546.5v-21M875.3,546.5v-21M877.1,546.5v-21M879.0,546.5v-27M880.9,546.5v-21M882.7,546.5v-21M884.5,546.5v-21M886.4,546.5v-21M888.2,546.5v-21M890.1,546.5v-21M892.0,546.5v-21M893.8,546.5v-21M895.6,546.5v-21M897.5,546.5v-34M899.4,546.5v-21M901.2,546.5v-21M903.0,546.5v-21M904.9,546.5v-21M906.8,546.5v-21M908.6,546.5v-21M910.5,546.5v-21M912.3,546.5v-21M914.1,546.5v-21M916.0,546.5v-27M917.9,546.5v-21M919.7,546.5v-21M921.5,546.5v-21M923.4,546.5v-21M925.2,546.5v-21M927.1,546.5v-21M929.0,546.5v-21M930.8,546.5v-21M932.6,546.5v-21M934.5,546.5v-34M936.4,546.5v-21M938.2,546.5v-21M940.0,546.5v-21M941.9,546.5v-21M943.8,546.5v-21M945.6,546.5v-21M947.5,546.5v-21M949.3,546.5v-21M951.1,546.5v-21M953.0,546.5v-27M954.9,546.5v-21M956.7,546.5v-21M958.5,546.5v-21M960.4,546.5v-21M962.2,546.5v-21M964.1,546.5v-21M966.0,546.5v-21M967.8,546.5v-21M969.6,546.5v-21M971.5,546.5v-34M973.4,546.5v-21M975.2,546.5v-21M977.0,546.5v-21M978.9,546.5v-21M980.8,546.5v-21M982.6,546.5v-21M984.5,546.5v-21M986.3,546.5v-21M988.1,546.5v-21M990.0,546.5v-27M991.9,546.5v-21M993.7,546.5v-21M995.5,546.5v-21M997.4,546.5v-21M999.2,546.5v-21M1001.1,546.5v-21M1003.0,546.5v-21M1004.8,546.5v-21M1006.6,546.5v-21M1008.5,546.5v-34M1010.4,546.5v-21M1012.2,546.5v-21M1014.0,546.5v-21M1015.9,546.5v-21M1017.8,546.5v-21M1019.6,546.5v-21M1021.5,546.5v-21M1023.3,546.5v-21M1025.2,546.5v-21M1027.0,546.5v-27M1028.8,546.5v-21M1030.7,546.5v-21M1032.5,546.5v-21M1034.4,546.5v-21M1036.2,546.5v-21M1038.1,546.5v-21M1040.0,546.5v-21M1041.8,546.5v-21M1043.7,546.5v-21M1045.5,546.5v-34M1047.3,546.5v-21M1049.2,546.5v-21M1051.0,546.5v-21M1052.9,546.5v-21M1054.8,546.5v-21M1056.6,546.5v-21M1058.5,546.5v-21M1060.3,546.5v-21M1062.2,546.5v-21M1064.0,546.5v-27M1065.8,546.5v-21M1067.7,546.5v-21M1069.5,546.5v-21M1071.4,546.5v-21M1073.2,546.5v-21M1075.1,546.5v-21M1077.0,546.5v-21M1078.8,546.5v-21M1080.7,546.5v-21M1082.5,546.5v-34M1084.3,546.5v-21M1086.2,546.5v-21M1088.0,546.5v-21M1089.9,546.5v-21M1091.8,546.5v-21M1093.6,546.5v-21M1095.5,546.5v-21M1097.3,546.5v-21M1099.2,546.5v-21M1101.0,546.5v-27M1102.8,546.5v-21M1104.7,546.5v-21M1106.5,546.5v-21M1108.4,546.5v-21M1110.2,546.5v-21M1112.1,546.5v-21M1114.0,546.5v-21M1115.8,546.5v-21M1117.7,546.5v-21M1119.5,546.5v-34M1121.3,546.5v-21M1123.2,546.5v-21M1125.0,546.5v-21M1126.9,546.5v-21M1128.8,546.5v-21M1130.6,546.5v-21M1132.5,546.5v-21M1134.3,546.5v-21M1136.2,546.5v-21M1138.0,546.5v-27M1139.8,546.5v-21M1141.7,546.5v-21M1143.5,546.5v-21M1145.4,546.5v-21M1147.2,546.5v-21M1149.1,546.5v-21M1151.0,546.5v-21M1152.8,546.5v-21M1154.7,546.5v-21M1156.5,546.5v-34M1158.3,546.5v-21M1160.2,546.5v-21M1162.0,546.5v-21M1163.9,546.5v-21M1165.8,546.5v-21M1167.6,546.5v-21M1169.5,546.5v-21M1171.3,546.5v-21M1173.2,546.5v-21M1175.0,546.5v-27M1176.8,546.5v-21M1178.7,546.5v-21M1180.5,546.5v-21M1182.4,546.5v-21M1184.2,546.5v-21M1186.1,546.5v-21M1188.0,546.5v-21M1189.8,546.5v-21M1191.7,546.5v-21M1193.5,546.5v-34M1195.3,546.5v-21M1197.2,546.5v-21M1199.0,546.5v-21M1200.9,546.5v-21M1202.8,546.5v-21M1204.6,546.5v-21M1206.5,546.5v-21" stroke="#2e2e2e" stroke-width="0.9"/>
<text x="848.3" y="508" style="font-family:'Liberation Serif',serif" font-weight="bold" font-size="28" textLength="12" lengthAdjust="spacingAndGlyphs" fill="#0a0a0a">1</text>
<text x="885.6" y="508" style="font-family:'Liberation Serif',serif" font-weight="bold" font-size="28" textLength="12" lengthAdjust="spacingAndGlyphs" fill="#0a0a0a">2</text>
<text x="922.3" y="508" style="font-family:'Liberation Serif',serif" font-weight="bold" font-size="28" textLength="12" lengthAdjust="spacingAndGlyphs" fill="#0a0a0a">3</text>
<text x="959.6" y="508" style="font-family:'Liberation Serif',serif" font-weight="bold" font-size="28" textLength="12" lengthAdjust="spacingAndGlyphs" fill="#0a0a0a">4</text>
<text x="997.0" y="508" style="font-family:'Liberation Serif',serif" font-weight="bold" font-size="28" textLength="12" lengthAdjust="spacingAndGlyphs" fill="#0a0a0a">5</text>
<text x="1033.7" y="508" style="font-family:'Liberation Serif',serif" font-weight="bold" font-size="28" textLength="12" lengthAdjust="spacingAndGlyphs" fill="#0a0a0a">6</text>
<text x="1070.0" y="508" style="font-family:'Liberation Serif',serif" font-weight="bold" font-size="28" textLength="12" lengthAdjust="spacingAndGlyphs" fill="#0a0a0a">7</text>
<text x="1106.8" y="508" style="font-family:'Liberation Serif',serif" font-weight="bold" font-size="28" textLength="12" lengthAdjust="spacingAndGlyphs" fill="#0a0a0a">8</text>
<text x="1143.8" y="508" style="font-family:'Liberation Serif',serif" font-weight="bold" font-size="28" textLength="12" lengthAdjust="spacingAndGlyphs" fill="#0a0a0a">9</text>
<text x="1179.7" y="508" style="font-family:'Liberation Serif',serif" font-weight="bold" font-size="28" textLength="26" lengthAdjust="spacingAndGlyphs" fill="#0a0a0a">10</text>
<text x="843.3" y="106.6" font-size="20.5" font-weight="bold">c</text>
<text x="872.2" y="130.5" font-size="19.5" textLength="34.6" lengthAdjust="spacingAndGlyphs">WS<tspan dy="6.24" font-size="11.31">2</tspan></text>
<text x="931.7" y="130.5" font-size="19.5" textLength="44" lengthAdjust="spacingAndGlyphs">MoS<tspan dy="6.24" font-size="11.31">2</tspan></text>
<text x="991.3" y="130.5" font-size="19.5" textLength="53.5" lengthAdjust="spacingAndGlyphs">MoSe<tspan dy="6.24" font-size="11.31">2</tspan></text>
<text x="1050.7" y="164.6" font-size="19.5" textLength="51" lengthAdjust="spacingAndGlyphs">NbSe<tspan dy="6.24" font-size="11.31">2</tspan></text>
<text x="1157.4" y="278.8" font-size="19.5" textLength="43.6" lengthAdjust="spacingAndGlyphs">PtTe<tspan dy="6.24" font-size="11.31">2</tspan></text>
<path d="M890.5,136V245M956.8,137.5V184.5M1020.8,137.5V184.7M1066.5,171V218.8M1021,274.3H1149" stroke="#1a1208" stroke-width="1.8" fill="none"/>
<clipPath id="cd"><rect x="2" y="650" width="1208" height="264.5"/></clipPath>
<g clip-path="url(#cd)">
<linearGradient id="gd" x1="0" x2="0" y1="650" y2="914.5" gradientUnits="userSpaceOnUse"><stop offset="0.0000" stop-color="#3c3c3c"/><stop offset="0.0378" stop-color="#404040"/><stop offset="0.0756" stop-color="#4a4a4a"/><stop offset="0.1134" stop-color="#686868"/><stop offset="0.1474" stop-color="#848484"/><stop offset="0.1739" stop-color="#646464"/><stop offset="0.1928" stop-color="#464646"/><stop offset="0.2193" stop-color="#262626"/><stop offset="0.2382" stop-color="#323232"/><stop offset="0.2684" stop-color="#606060"/><stop offset="0.2987" stop-color="#808080"/><stop offset="0.3251" stop-color="#5c5c5c"/><stop offset="0.3516" stop-color="#1e1e1e"/><stop offset="0.3743" stop-color="#0a0a0a"/><stop offset="0.4008" stop-color="#1a1a1a"/><stop offset="0.4348" stop-color="#505050"/><stop offset="0.4650" stop-color="#686868"/><stop offset="0.4953" stop-color="#363636"/><stop offset="0.5217" stop-color="#101010"/><stop offset="0.5444" stop-color="#080808"/><stop offset="0.5709" stop-color="#202020"/><stop offset="0.6049" stop-color="#505050"/><stop offset="0.6352" stop-color="#606060"/><stop offset="0.6654" stop-color="#363636"/><stop offset="0.6957" stop-color="#161616"/><stop offset="0.7221" stop-color="#1a1a1a"/><stop offset="0.7524" stop-color="#242424"/><stop offset="0.7788" stop-color="#2c2c2c"/><stop offset="0.8091" stop-color="#343434"/><stop offset="0.8393" stop-color="#282828"/><stop offset="0.8658" stop-color="#121212"/><stop offset="0.8922" stop-color="#080808"/><stop offset="0.9263" stop-color="#050505"/><stop offset="0.9981" stop-color="#040404"/></linearGradient>
<rect x="2" y="650" width="1208" height="264.5" fill="url(#gd)"/>
<filter id="dl" x="-0.5" y="-0.5" width="2" height="2"><feGaussianBlur stdDeviation="18 8"/></filter>
<rect x="-40" y="640" width="300" height="62" fill="#000" opacity="0.35" filter="url(#dl)"/>
<ellipse cx="800" cy="691" rx="260" ry="9" fill="#fff" opacity="0.13" filter="url(#dl)"/>
<filter id="dn" x="0" y="0" width="1" height="1"><feTurbulence type="fractalNoise" baseFrequency="0.09 0.07" numOctaves="2" seed="7"/><feColorMatrix type="matrix" values="0 0 0 0 1  0 0 0 0 1  0 0 0 0 1  0 0 0 1.5 -0.6"/></filter>
<linearGradient id="dnm" x1="0" x2="0" y1="650" y2="890" gradientUnits="userSpaceOnUse"><stop offset="0" stop-color="#fff"/><stop offset="0.8" stop-color="#fff"/><stop offset="1" stop-color="#000"/></linearGradient>
<mask id="dnmask" maskUnits="userSpaceOnUse" x="2" y="650" width="1208" height="264.5"><rect x="2" y="650" width="1208" height="264.5" fill="url(#dnm)"/></mask>
<rect x="2" y="650" width="1208" height="240" filter="url(#dn)" opacity="0.22" mask="url(#dnmask)"/>
<filter id="dn2" x="0" y="0" width="1" height="1"><feTurbulence type="fractalNoise" baseFrequency="0.09 0.07" numOctaves="2" seed="23"/><feColorMatrix type="matrix" values="0 0 0 0 0  0 0 0 0 0  0 0 0 0 0  0 0 0 1.5 -0.6"/></filter>
<rect x="2" y="650" width="1208" height="240" filter="url(#dn2)" opacity="0.3" mask="url(#dnmask)"/>
<pattern id="arow" width="9.2" height="20" patternUnits="userSpaceOnUse"><ellipse cx="4.6" cy="10" rx="2.6" ry="3.6" fill="#fff"/></pattern>
<filter id="ab2" x="0" y="-0.5" width="1" height="2"><feGaussianBlur stdDeviation="2 1.5"/></filter>
<rect x="2" y="679" width="1208" height="20" fill="url(#arow)" opacity="0.13" filter="url(#ab2)"/>
<rect x="2" y="719" width="1208" height="20" fill="url(#arow)" opacity="0.12" filter="url(#ab2)"/>
<rect x="2" y="763" width="1208" height="20" fill="url(#arow)" opacity="0.11" filter="url(#ab2)"/>
<rect x="2" y="808" width="1208" height="20" fill="url(#arow)" opacity="0.1" filter="url(#ab2)"/>
<rect x="2" y="836" width="1208" height="20" fill="url(#arow)" opacity="0.08" filter="url(#ab2)"/>
<filter id="db" x="-1" y="-1" width="3" height="3"><feGaussianBlur stdDeviation="1.3"/></filter>
<filter id="dg" x="-1" y="-1" width="3" height="3"><feGaussianBlur stdDeviation="3.5"/></filter>
<g fill="#8a8a8a" opacity="0.55" filter="url(#dg)"><ellipse cx="10.4" cy="858" rx="5" ry="9"/><ellipse cx="28.7" cy="858" rx="5" ry="9"/><ellipse cx="47.1" cy="858" rx="5" ry="9"/><ellipse cx="65.5" cy="858" rx="5" ry="9"/><ellipse cx="83.9" cy="858" rx="5" ry="9"/><ellipse cx="102.3" cy="858" rx="5" ry="9"/><ellipse cx="120.6" cy="858" rx="5" ry="9"/><ellipse cx="139.0" cy="858" rx="5" ry="9"/><ellipse cx="157.4" cy="858" rx="5" ry="9"/><ellipse cx="175.8" cy="858" rx="5" ry="9"/><ellipse cx="194.2" cy="858" rx="5" ry="9"/><ellipse cx="212.5" cy="858" rx="5" ry="9"/><ellipse cx="230.9" cy="858" rx="5" ry="9"/><ellipse cx="249.3" cy="858" rx="5" ry="9"/><ellipse cx="267.7" cy="858" rx="5" ry="9"/><ellipse cx="286.1" cy="858" rx="5" ry="9"/><ellipse cx="304.4" cy="858" rx="5" ry="9"/><ellipse cx="322.8" cy="858" rx="5" ry="9"/><ellipse cx="341.2" cy="858" rx="5" ry="9"/><ellipse cx="359.6" cy="858" rx="5" ry="9"/><ellipse cx="378.0" cy="858" rx="5" ry="9"/><ellipse cx="396.3" cy="858" rx="5" ry="9"/><ellipse cx="414.7" cy="858" rx="5" ry="9"/><ellipse cx="433.1" cy="858" rx="5" ry="9"/><ellipse cx="451.5" cy="858" rx="5" ry="9"/><ellipse cx="469.9" cy="858" rx="5" ry="9"/><ellipse cx="488.2" cy="858" rx="5" ry="9"/><ellipse cx="506.6" cy="858" rx="5" ry="9"/><ellipse cx="525.0" cy="858" rx="5" ry="9"/><ellipse cx="543.4" cy="858" rx="5" ry="9"/><ellipse cx="561.8" cy="858" rx="5" ry="9"/><ellipse cx="580.1" cy="858" rx="5" ry="9"/><ellipse cx="598.5" cy="858" rx="5" ry="9"/><ellipse cx="616.9" cy="858" rx="5" ry="9"/><ellipse cx="635.3" cy="858" rx="5" ry="9"/><ellipse cx="653.7" cy="858" rx="5" ry="9"/><ellipse cx="672.0" cy="858" rx="5" ry="9"/><ellipse cx="690.4" cy="858" rx="5" ry="9"/><ellipse cx="708.8" cy="858" rx="5" ry="9"/><ellipse cx="727.2" cy="858" rx="5" ry="9"/><ellipse cx="745.6" cy="858" rx="5" ry="9"/><ellipse cx="763.9" cy="858" rx="5" ry="9"/><ellipse cx="782.3" cy="858" rx="5" ry="9"/><ellipse cx="800.7" cy="858" rx="5" ry="9"/><ellipse cx="819.1" cy="858" rx="5" ry="9"/><ellipse cx="837.5" cy="858" rx="5" ry="9"/><ellipse cx="855.8" cy="858" rx="5" ry="9"/><ellipse cx="874.2" cy="858" rx="5" ry="9"/><ellipse cx="892.6" cy="858" rx="5" ry="9"/><ellipse cx="911.0" cy="858" rx="5" ry="9"/><ellipse cx="929.4" cy="858" rx="5" ry="9"/><ellipse cx="947.7" cy="858" rx="5" ry="9"/><ellipse cx="966.1" cy="858" rx="5" ry="9"/><ellipse cx="984.5" cy="858" rx="5" ry="9"/><ellipse cx="1002.9" cy="858" rx="5" ry="9"/><ellipse cx="1021.3" cy="858" rx="5" ry="9"/><ellipse cx="1039.6" cy="858" rx="5" ry="9"/><ellipse cx="1058.0" cy="858" rx="5" ry="9"/><ellipse cx="1076.4" cy="858" rx="5" ry="9"/><ellipse cx="1094.8" cy="858" rx="5" ry="9"/><ellipse cx="1113.2" cy="858" rx="5" ry="9"/><ellipse cx="1131.5" cy="858" rx="5" ry="9"/><ellipse cx="1149.9" cy="858" rx="5" ry="9"/><ellipse cx="1168.3" cy="858" rx="5" ry="9"/><ellipse cx="1186.7" cy="858" rx="5" ry="9"/><ellipse cx="1205.1" cy="858" rx="5" ry="9"/></g>
<g fill="#fff" filter="url(#db)"><ellipse cx="10.4" cy="865.5" rx="5" ry="7"/><ellipse cx="28.7" cy="865.5" rx="5" ry="7"/><ellipse cx="47.1" cy="865.5" rx="5" ry="7"/><ellipse cx="65.5" cy="865.5" rx="5" ry="7"/><ellipse cx="83.9" cy="865.5" rx="5" ry="7"/><ellipse cx="102.3" cy="865.5" rx="5" ry="7"/><ellipse cx="120.6" cy="865.5" rx="5" ry="7"/><ellipse cx="139.0" cy="865.5" rx="5" ry="7"/><ellipse cx="157.4" cy="865.5" rx="5" ry="7"/><ellipse cx="175.8" cy="865.5" rx="5" ry="7"/><ellipse cx="194.2" cy="865.5" rx="5" ry="7"/><ellipse cx="212.5" cy="865.5" rx="5" ry="7"/><ellipse cx="230.9" cy="865.5" rx="5" ry="7"/><ellipse cx="249.3" cy="865.5" rx="5" ry="7"/><ellipse cx="267.7" cy="865.5" rx="5" ry="7"/><ellipse cx="286.1" cy="865.5" rx="5" ry="7"/><ellipse cx="304.4" cy="865.5" rx="5" ry="7"/><ellipse cx="322.8" cy="865.5" rx="5" ry="7"/><ellipse cx="341.2" cy="865.5" rx="5" ry="7"/><ellipse cx="359.6" cy="865.5" rx="5" ry="7"/><ellipse cx="378.0" cy="865.5" rx="5" ry="7"/><ellipse cx="396.3" cy="865.5" rx="5" ry="7"/><ellipse cx="414.7" cy="865.5" rx="5" ry="7"/><ellipse cx="433.1" cy="865.5" rx="5" ry="7"/><ellipse cx="451.5" cy="865.5" rx="5" ry="7"/><ellipse cx="469.9" cy="865.5" rx="5" ry="7"/><ellipse cx="488.2" cy="865.5" rx="5" ry="7"/><ellipse cx="506.6" cy="865.5" rx="5" ry="7"/><ellipse cx="525.0" cy="865.5" rx="5" ry="7"/><ellipse cx="543.4" cy="865.5" rx="5" ry="7"/><ellipse cx="561.8" cy="865.5" rx="5" ry="7"/><ellipse cx="580.1" cy="865.5" rx="5" ry="7"/><ellipse cx="598.5" cy="865.5" rx="5" ry="7"/><ellipse cx="616.9" cy="865.5" rx="5" ry="7"/><ellipse cx="635.3" cy="865.5" rx="5" ry="7"/><ellipse cx="653.7" cy="865.5" rx="5" ry="7"/><ellipse cx="672.0" cy="865.5" rx="5" ry="7"/><ellipse cx="690.4" cy="865.5" rx="5" ry="7"/><ellipse cx="708.8" cy="865.5" rx="5" ry="7"/><ellipse cx="727.2" cy="865.5" rx="5" ry="7"/><ellipse cx="745.6" cy="865.5" rx="5" ry="7"/><ellipse cx="763.9" cy="865.5" rx="5" ry="7"/><ellipse cx="782.3" cy="865.5" rx="5" ry="7"/><ellipse cx="800.7" cy="865.5" rx="5" ry="7"/><ellipse cx="819.1" cy="865.5" rx="5" ry="7"/><ellipse cx="837.5" cy="865.5" rx="5" ry="7"/><ellipse cx="855.8" cy="865.5" rx="5" ry="7"/><ellipse cx="874.2" cy="865.5" rx="5" ry="7"/><ellipse cx="892.6" cy="865.5" rx="5" ry="7"/><ellipse cx="911.0" cy="865.5" rx="5" ry="7"/><ellipse cx="929.4" cy="865.5" rx="5" ry="7"/><ellipse cx="947.7" cy="865.5" rx="5" ry="7"/><ellipse cx="966.1" cy="865.5" rx="5" ry="7"/><ellipse cx="984.5" cy="865.5" rx="5" ry="7"/><ellipse cx="1002.9" cy="865.5" rx="5" ry="7"/><ellipse cx="1021.3" cy="865.5" rx="5" ry="7"/><ellipse cx="1039.6" cy="865.5" rx="5" ry="7"/><ellipse cx="1058.0" cy="865.5" rx="5" ry="7"/><ellipse cx="1076.4" cy="865.5" rx="5" ry="7"/><ellipse cx="1094.8" cy="865.5" rx="5" ry="7"/><ellipse cx="1113.2" cy="865.5" rx="5" ry="7"/><ellipse cx="1131.5" cy="865.5" rx="5" ry="7"/><ellipse cx="1149.9" cy="865.5" rx="5" ry="7"/><ellipse cx="1168.3" cy="865.5" rx="5" ry="7"/><ellipse cx="1186.7" cy="865.5" rx="5" ry="7"/><ellipse cx="1205.1" cy="865.5" rx="5" ry="7"/></g>
<path d="M115.5,648L114.9,651 114.3,655.1 113.5,660 112.4,665.2 110.9,670.3 108.9,674.7 105.9,678.6 101.8,682.3 97.3,685.9 93.1,689.3 90,692.7 88.6,696 89.7,699.2 92.8,702.2 97,705.2 101.2,708.1 104.4,711.1 105.6,714.3 104.1,717.6 100.5,721.1 95.9,724.6 91.5,728.1 88.3,731.6 87.5,735 89.9,738.3 94.7,741.6 100.8,744.8 107,748 112,751.3 114.7,754.7 114.3,758.2 111.8,761.9 108.1,765.6 104.3,769.4 101.5,773 100.7,776.5 102.7,779.8 106.6,782.9 111.6,785.9 116.5,789 120.3,792.1 122,795.5 120.9,799.1 117.6,803 113.2,806.9 108.9,810.9 105.5,814.8 104.3,818.6 106.1,822.1 110.3,825.6 115.5,828.9 120.4,832.2 123.7,835.7 124,839.2 120.2,843.1 113.3,847.3 104.7,851.6 96,855.7 88.9,859.4 85,862.3 84.5,864.3 86.2,865.6 89.5,866.5 93.7,867.1 98.2,867.9 102.3,869 106.5,870.5 111.4,872 116.6,873.7 121.7,875.4 126.3,877.1 130,878.8 132.8,880.2 134.9,881.4 136.5,882.7 137.7,884.1 138.9,886 140,888.7 141.1,892.6 142,897.5 142.8,903 143.5,908.3 144,912.8 144.4,916" fill="none" stroke="#fff" stroke-width="1.6"/>
<path d="M868.5,648L868.1,652.7 867.4,659.3 866.7,667 865.9,675.1 865.1,682.8 864.4,689.3 863.6,694.5 862.8,699.2 862,703.3 861.2,707.3 860.7,711.3 860.4,715.5 860.6,719.9 861.1,724.3 861.8,728.7 862.5,733.1 863.1,737.5 863.4,741.7 863.3,745.9 863,750 862.5,754.1 862,758.1 861.6,762 861.4,765.8 861.5,769.2 861.8,772.2 862.3,775.1 862.6,778.2 862.7,781.8 862.4,786 861.6,791.2 860.4,797.3 859,803.7 857.4,810.3 855.8,816.6 854.4,822.2 853.3,827.3 852.4,832.1 851.5,836.6 850.3,840.9 848.7,844.8 846.3,848.4 842.4,851.6 837.2,854.4 831.4,856.9 826.1,859.2 822,861.3 820.1,863.5 820.8,865.6 823.4,867.5 827.3,869.2 831.9,871 836.4,872.7 840.3,874.6 843.8,876.4 847.4,877.9 851,879.5 854.4,881.4 857.6,883.7 860.4,886.7 862.8,890.9 864.9,896.3 866.7,902.1 868.3,907.8 869.5,912.6 870.5,916" fill="none" stroke="#d42020" stroke-width="2.7"/>
<path d="M957.1,648L956.3,650.4 955.2,653.8 953.9,657.8 952.7,662 951.6,665.9 951,669.2 951,671.7 951.4,673.8 952,675.6 952.6,677.3 953,679.2 953,681.3 952.4,683.8 951.4,686.4 950.2,689.2 948.9,692 947.8,694.8 947,697.4 946.5,699.9 946.2,702.4 946,704.8 945.9,707.2 945.9,709.4 946,711.5 946.3,713.3 946.7,714.9 947.3,716.4 947.8,717.9 948.1,719.5 948,721.5 947.4,723.7 946.3,726.1 945,728.7 943.7,731.4 942.6,734.4 942,737.6 942,741.2 942.4,745.2 943,749.4 943.6,753.7 944,757.9 944,761.8 943.4,765.5 942.3,769.3 940.9,772.9 939.6,776.3 938.6,779.4 938,782 938.2,783.9 939,785.3 940,786.3 940.9,787.2 941.4,788.3 941,790 939.4,792.3 936.8,795 933.8,797.9 930.7,800.8 928.3,803.6 926.9,806.1 927,808.2 928.3,810.1 930.1,811.8 931.9,813.5 933,815.3 933,817.2 931.1,819.2 927.8,821.3 923.8,823.4 920,825.6 917.4,827.9 916.8,830.3 918.7,832.8 922.5,835.4 927.4,838.2 932.6,840.9 937.4,843.7 941,846.4 943.2,849 944.8,851.5 945.9,853.9 946.8,856.5 947.7,859.3 949,862.5 950.7,866 952.6,869.8 954.5,873.8 956.3,878 957.9,882.3 959.1,886.7 959.8,891.6 960.1,897.2 960.2,902.9 960.1,908.2 960,912.8 960,916" fill="none" stroke="#2ee02e" stroke-width="2.7"/>
<path d="M1040.4,648L1040,650 1039.4,652.8 1038.8,656 1038.1,659.4 1037.6,662.6 1037.3,665.1 1037.5,666.9 1038,668.2 1038.7,669.3 1039.2,670.4 1039.2,671.6 1038.3,673.2 1036.1,675.2 1032.8,677.3 1028.9,679.6 1025.1,682.1 1022,684.6 1020.2,687.3 1020,689.9 1021,692.6 1022.6,695.3 1024.4,698.3 1025.8,701.6 1026.3,705.4 1025.6,709.9 1024,715 1022.1,720.5 1020.2,726 1018.7,731.2 1018.2,735.7 1019,739.6 1021,743.1 1023.4,746.3 1025.7,749.3 1027.2,752.1 1027.3,754.8 1025.3,757.3 1021.6,759.6 1017.1,761.7 1012.8,763.7 1009.5,765.7 1008.1,767.9 1009.3,770.2 1012.3,772.5 1016.4,774.8 1020.6,777.1 1024.2,779.5 1026.3,782 1026.5,784.4 1025.5,786.8 1023.8,789.2 1021.9,791.8 1020.6,794.7 1020.2,798.1 1020.9,802.1 1022.4,806.8 1024.2,811.7 1026.3,816.7 1028.4,821.7 1030.3,826.3 1032.1,830.6 1033.9,834.8 1035.8,838.9 1037.6,842.9 1039.1,846.8 1040.4,850.5 1041.4,854.2 1042.1,857.8 1042.6,861.3 1043,864.6 1043.2,867.8 1043.4,870.6 1043.4,872.8 1043.1,874.4 1042.7,875.8 1042.4,877.4 1042.2,879.5 1042.4,882.7 1043.1,887.4 1044.1,893.5 1045.3,900.1 1046.6,906.6 1047.7,912.1 1048.4,916" fill="none" stroke="#3aa6d8" stroke-width="2.7"/>
<path d="M1116.9,648L1115.9,650 1114.4,652.8 1112.7,656 1111,659.4 1109.7,662.6 1108.9,665.1 1109,666.9 1110,668.2 1111.2,669.3 1112.3,670.4 1112.7,671.6 1111.9,673.2 1109.4,675.2 1105.3,677.3 1100.6,679.6 1096,682.1 1092.5,684.6 1090.7,687.3 1091.2,690 1093.4,692.8 1096.6,695.7 1100,698.8 1103,702 1104.8,705.4 1105.2,709 1104.7,712.9 1103.7,716.9 1102.7,721 1102.3,725.3 1102.8,729.6 1104.6,734.2 1107.4,739.2 1110.7,744.2 1114,749.1 1116.9,753.8 1118.9,757.8 1119.8,761.1 1120.1,763.9 1119.8,766.4 1119.5,768.7 1119.4,771.1 1119.9,773.9 1121,776.9 1122.5,779.9 1124.3,782.9 1126,786.2 1127.7,789.9 1129,794 1129.9,798.7 1130.6,803.9 1131.2,809.5 1131.7,815.2 1132.3,820.9 1133,826.3 1133.9,831.5 1135,836.5 1136,841.5 1137.1,846.5 1138.2,851.5 1139.1,856.5 1139.9,861.5 1140.7,866.6 1141.4,871.7 1142,876.7 1142.6,881.7 1143.1,886.7 1143.6,892 1144,897.6 1144.3,903.2 1144.7,908.4 1144.9,912.8 1145.1,916" fill="none" stroke="#f2e020" stroke-width="2.7"/>
<path d="M1170.3,648L1168.7,649.9 1166.5,652.5 1163.9,655.5 1161.2,658.8 1158.9,662.1 1157.2,665.1 1156.3,667.8 1156.1,670.3 1156.1,672.8 1156.2,675.3 1156,678.2 1155.2,681.3 1153.5,684.9 1151.2,689 1148.6,693.2 1146.1,697.5 1144.1,701.6 1143.1,705.4 1143.3,708.8 1144.5,712.1 1146.1,715.2 1148,718.2 1149.4,721 1150.2,723.6 1150,725.9 1149.1,727.9 1147.9,729.7 1146.8,731.4 1146,733.4 1146.1,735.7 1147.2,738.3 1149.1,741.1 1151.5,744 1153.8,747.1 1155.9,750.4 1157.2,753.8 1157.5,757.6 1157.2,761.7 1156.5,766 1155.8,770.3 1155.6,774.4 1156.2,778 1157.9,781.1 1160.6,783.9 1163.6,786.5 1166.7,789 1169.4,791.4 1171.3,794 1172.2,796.6 1172.3,799 1172,801.5 1171.7,804.1 1171.7,806.9 1172.3,810.2 1173.6,813.9 1175.4,818 1177.4,822.4 1179.6,827 1181.6,831.7 1183.4,836.4 1184.9,841.2 1186.1,846.2 1187.3,851.2 1188.5,856.4 1189.9,861.5 1191.4,866.6 1193.3,871.8 1195.6,877.1 1197.9,882.4 1200.2,887.5 1202.1,892.4 1203.5,896.8 1204.3,900.9 1204.5,904.7 1204.5,908.3 1204.3,911.4 1204.1,914 1204,916" fill="none" stroke="#d22ed2" stroke-width="2.7"/>
<path d="M1197.5,648L1197.1,652.1 1196.5,657.9 1195.8,664.8 1195.1,672 1194.3,679.1 1193.5,685.3 1192.7,690.7 1191.9,695.9 1191,700.8 1190.1,705.7 1189.3,710.5 1188.4,715.5 1187.5,720.5 1186.5,725.6 1185.5,730.6 1184.6,735.6 1183.9,740.7 1183.4,745.7 1183.4,750.9 1183.7,756.3 1184.3,761.7 1184.7,766.9 1184.9,771.8 1184.4,776 1183.1,779.4 1181.2,782.1 1179,784.4 1176.7,786.7 1174.7,789.1 1173.3,792.1 1172.7,795.7 1172.6,799.8 1172.7,804.2 1172.9,808.5 1172.9,812.6 1172.3,816.2 1171,819.3 1169.1,822.2 1166.9,824.7 1164.9,827.2 1163.2,829.7 1162.2,832.3 1162.2,835 1163,837.8 1164.1,840.5 1165.3,843.3 1166.2,845.9 1166.3,848.5 1165.5,850.9 1163.9,853.2 1162.1,855.4 1160.2,857.7 1158.8,860 1158.2,862.6 1158.5,865.4 1159.5,868.3 1160.9,871.4 1162.5,874.5 1164,877.6 1165.3,880.7 1166.3,883.7 1167.3,886.8 1168.2,889.8 1169.1,892.8 1170.1,895.8 1171.3,898.8 1172.7,901.9 1174.4,905.2 1176.2,908.5 1177.9,911.6 1179.4,914.1 1180.4,916" fill="none" stroke="#3ad2d2" stroke-width="2.7"/>
</g>
<text x="7.9" y="671.4" font-size="20.5" fill="#fff" font-weight="bold">d</text>
<text x="7.8" y="703.8" font-size="21" fill="#fff" textLength="49.6" lengthAdjust="spacingAndGlyphs">PtSe<tspan dy="6.72" font-size="12.18">2</tspan></text>
<text x="7.8" y="743.4" font-size="21" fill="#fff" textLength="49.6" lengthAdjust="spacingAndGlyphs">PtSe<tspan dy="6.72" font-size="12.18">2</tspan></text>
<text x="7.8" y="786.6" font-size="21" fill="#fff">NbSe<tspan dy="6.72" font-size="12.18">2</tspan></text>
<text x="7.8" y="827.9" font-size="21" fill="#fff">MoS<tspan dy="6.72" font-size="12.18">2</tspan></text>
<text x="7.8" y="869.9" font-size="21" fill="#fff">WS<tspan dy="6.72" font-size="12.18">2</tspan></text>
<text x="824.7" y="669.8" font-size="20" fill="#fff">W</text>
<text x="903" y="669.8" font-size="20" fill="#fff">Mo</text>
<text x="990.4" y="669.8" font-size="20" fill="#fff">Nb</text>
<text x="1073" y="669.8" font-size="20" fill="#fff">Pt</text>
<text x="1127.8" y="669.8" font-size="20" fill="#fff">Se</text>
<text x="1177" y="669.8" font-size="20" fill="#fff">S</text>
<rect x="173.3" y="902.6" width="65.7" height="6" fill="#fff"/>
<text x="205.5" y="899.8" font-size="18" fill="#fff" text-anchor="middle">1 nm</text>
<radialGradient id="dotw"><stop offset="0" stop-color="#ececec"/><stop offset="0.35" stop-color="#dcdcdc" stop-opacity="0.85"/><stop offset="0.7" stop-color="#c0c0c0" stop-opacity="0.4"/><stop offset="1" stop-color="#a8a8a8" stop-opacity="0"/></radialGradient>
<pattern id="hc" width="13.164" height="22.800" patternUnits="userSpaceOnUse" patternTransform="rotate(-8)"><rect width="13.164" height="22.800" fill="#888888"/><circle cx="0.00" cy="0.00" r="6.0" fill="url(#dotw)"/><circle cx="6.58" cy="3.80" r="6.0" fill="url(#dotw)"/><circle cx="6.58" cy="11.40" r="6.0" fill="url(#dotw)"/><circle cx="0.00" cy="15.20" r="6.0" fill="url(#dotw)"/><circle cx="13.16" cy="0.00" r="6.0" fill="url(#dotw)"/><circle cx="13.16" cy="15.20" r="6.0" fill="url(#dotw)"/><circle cx="0.00" cy="22.80" r="6.0" fill="url(#dotw)"/><circle cx="13.16" cy="22.80" r="6.0" fill="url(#dotw)"/><circle cx="6.58" cy="-3.80" r="6.0" fill="url(#dotw)"/></pattern>
<radialGradient id="dotd"><stop offset="0" stop-color="#5c5c5c"/><stop offset="0.45" stop-color="#424242" stop-opacity="0.75"/><stop offset="1" stop-color="#1c1c1c" stop-opacity="0"/></radialGradient>
<pattern id="tl" width="13.6" height="23.556" patternUnits="userSpaceOnUse" patternTransform="rotate(-12)"><rect width="13.6" height="23.556" fill="#151515"/><circle cx="0.00" cy="0.00" r="5.8" fill="url(#dotd)"/><circle cx="13.60" cy="0.00" r="5.8" fill="url(#dotd)"/><circle cx="6.80" cy="11.78" r="5.8" fill="url(#dotd)"/><circle cx="0.00" cy="23.56" r="5.8" fill="url(#dotd)"/><circle cx="13.60" cy="23.56" r="5.8" fill="url(#dotd)"/></pattern>
<clipPath id="ce"><rect x="3" y="948" width="592" height="400"/></clipPath>
<g clip-path="url(#ce)">
<rect x="3" y="948" width="592" height="400" fill="url(#tl)"/>
<radialGradient id="edk" cx="590" cy="950" r="200" gradientUnits="userSpaceOnUse"><stop offset="0" stop-color="#000" stop-opacity="0.5"/><stop offset="1" stop-color="#000" stop-opacity="0"/></radialGradient>
<rect x="3" y="948" width="592" height="400" fill="url(#edk)"/>
<filter id="eb" x="-0.2" y="-0.2" width="1.4" height="1.4"><feGaussianBlur stdDeviation="6.5"/></filter>
<mask id="em" maskUnits="userSpaceOnUse" x="0" y="930" width="620" height="440"><path d="M434,940L436.3,943.7 439.6,948.6 443.4,954.6 447.6,961.3 451.8,968.5 456,976 460.3,984.4 465.1,993.9 470,1003.9 474.7,1013.9 478.8,1023.1 482,1031 484.2,1037.4 485.8,1042.7 486.8,1047.3 487.3,1051.5 487.7,1055.6 488,1060 488.3,1064.3 488.6,1068.4 488.7,1072.3 488.4,1076.4 487.5,1080.9 486,1086 483.9,1092 481.4,1098.8 478.4,1106 474.7,1113.2 470.3,1120 465,1126 458.7,1131.2 451.4,1135.9 443.3,1140.2 434.7,1144.2 425.9,1148.1 417,1152 407.6,1155.8 397.4,1159.5 387,1163 376.8,1166.4 367.3,1169.7 359,1173 352,1176 346,1178.8 340.7,1181.5 335.9,1184.3 331.4,1187.4 327,1191 322.7,1195.1 318.6,1199.4 314.9,1204.1 311.5,1209.1 308.5,1214.4 306,1220 304.1,1226 302.8,1232.5 301.9,1239.3 301.2,1246.3 300.7,1253.2 300,1260 299.3,1266.5 298.7,1272.7 298.1,1279 297.7,1285.5 297.3,1292.4 297,1300 296.8,1309.1 296.8,1319.6 296.8,1330.5 296.9,1340.9 297,1349.7 297,1356L-10,1356L-10,940Z" fill="#fff" filter="url(#eb)"/></mask>
<filter id="ebl" x="0" y="0" width="1" height="1"><feGaussianBlur stdDeviation="0.9"/></filter>
<g mask="url(#em)"><rect x="3" y="948" width="592" height="400" fill="url(#hc)" filter="url(#ebl)"/></g>
<filter id="en" x="0" y="0" width="1" height="1"><feTurbulence type="fractalNoise" baseFrequency="0.025" numOctaves="2" seed="11"/><feColorMatrix type="matrix" values="0 0 0 0 0  0 0 0 0 0  0 0 0 0 0  0 0 0 1.2 -0.5"/></filter>
<rect x="3" y="948" width="592" height="400" filter="url(#en)" opacity="0.25" mask="url(#em)"/>
<linearGradient id="elg" x1="3" x2="420" y1="0" y2="0" gradientUnits="userSpaceOnUse"><stop offset="0" stop-color="#000" stop-opacity="0.05"/><stop offset="1" stop-color="#000" stop-opacity="0"/></linearGradient>
<rect x="3" y="948" width="592" height="400" fill="url(#elg)" mask="url(#em)"/>
<radialGradient id="ebr" cx="400" cy="1080" r="150" gradientUnits="userSpaceOnUse"><stop offset="0" stop-color="#fff" stop-opacity="0.12"/><stop offset="1" stop-color="#fff" stop-opacity="0"/></radialGradient>
<rect x="3" y="948" width="592" height="400" fill="url(#ebr)" mask="url(#em)"/>
</g>
<radialGradient id="ao" cx="0.38" cy="0.35" r="0.7"><stop offset="0" stop-color="#ffd070"/><stop offset="0.45" stop-color="#e39820"/><stop offset="1" stop-color="#a86008"/></radialGradient><radialGradient id="ac" cx="0.38" cy="0.35" r="0.7"><stop offset="0" stop-color="#d8f4f8"/><stop offset="0.45" stop-color="#70c4d4"/><stop offset="1" stop-color="#3a8898"/></radialGradient><radialGradient id="ay" cx="0.38" cy="0.35" r="0.7"><stop offset="0" stop-color="#fffa90"/><stop offset="0.45" stop-color="#f0e010"/><stop offset="1" stop-color="#b0a000"/></radialGradient><radialGradient id="ab" cx="0.38" cy="0.35" r="0.7"><stop offset="0" stop-color="#90d0f8"/><stop offset="0.45" stop-color="#2a88c8"/><stop offset="1" stop-color="#105888"/></radialGradient>
<path d="M295.0,1081.2L302.0,1092.5L295.0,1103.8M315.1,1081.2L302.0,1092.5L315.1,1103.8M315.1,1081.2L322.0,1092.5L315.1,1103.8M335.2,1081.2L322.0,1092.5L335.2,1103.8M335.2,1081.2L342.1,1092.5L335.2,1103.8M355.3,1081.2L342.1,1092.5L355.3,1103.8M355.3,1081.2L362.1,1092.5L355.3,1103.8M375.4,1081.2L362.1,1092.5L375.4,1103.8M375.4,1081.2L382.2,1092.5L375.4,1103.8M395.5,1081.2L382.2,1092.5L395.5,1103.8M395.5,1081.2L402.2,1092.5L395.5,1103.8M291.2,1129.3L284.6,1140.7L291.2,1152M311.1,1129.3L304.5,1140.7L311.1,1152M291.2,1129.3L304.5,1140.7L291.2,1152M331.1,1129.3L324.4,1140.7L331.1,1152M311.1,1129.3L324.4,1140.7L311.1,1152M351.0,1129.3L344.4,1140.7L351.0,1152M331.1,1129.3L344.4,1140.7L331.1,1152M370.9,1129.3L364.3,1140.7L370.9,1152M351.0,1129.3L364.3,1140.7L351.0,1152M390.9,1129.3L384.2,1140.7L390.9,1152M370.9,1129.3L384.2,1140.7L370.9,1152M410.8,1129.3L404.1,1140.7L410.8,1152M390.9,1129.3L404.1,1140.7L390.9,1152M430.7,1129.3L424.0,1140.7L430.7,1152M410.8,1129.3L424.0,1140.7L410.8,1152M450.6,1129.3L444.0,1140.7L450.6,1152M430.7,1129.3L444.0,1140.7L430.7,1152M470.6,1129.3L463.9,1140.7L470.6,1152M450.6,1129.3L463.9,1140.7L450.6,1152M490.5,1129.3L483.8,1140.7L490.5,1152M470.6,1129.3L483.8,1140.7L470.6,1152M510.4,1129.3L503.7,1140.7L510.4,1152M490.5,1129.3L503.7,1140.7L490.5,1152" stroke="#d8d8b0" stroke-width="1" fill="none" opacity="0.8"/>
<circle cx="295.0" cy="1081.2" r="4.7" fill="url(#ao)"/><circle cx="295.0" cy="1103.8" r="4.7" fill="url(#ao)"/><circle cx="315.1" cy="1081.2" r="4.7" fill="url(#ao)"/><circle cx="315.1" cy="1103.8" r="4.7" fill="url(#ao)"/><circle cx="335.2" cy="1081.2" r="4.7" fill="url(#ao)"/><circle cx="335.2" cy="1103.8" r="4.7" fill="url(#ao)"/><circle cx="355.3" cy="1081.2" r="4.7" fill="url(#ao)"/><circle cx="355.3" cy="1103.8" r="4.7" fill="url(#ao)"/><circle cx="375.4" cy="1081.2" r="4.7" fill="url(#ao)"/><circle cx="375.4" cy="1103.8" r="4.7" fill="url(#ao)"/><circle cx="395.5" cy="1081.2" r="4.7" fill="url(#ao)"/><circle cx="395.5" cy="1103.8" r="4.7" fill="url(#ao)"/><circle cx="302.0" cy="1092.5" r="4.7" fill="url(#ac)"/><circle cx="322.0" cy="1092.5" r="4.7" fill="url(#ac)"/><circle cx="342.1" cy="1092.5" r="4.7" fill="url(#ac)"/><circle cx="362.1" cy="1092.5" r="4.7" fill="url(#ac)"/><circle cx="382.2" cy="1092.5" r="4.7" fill="url(#ac)"/><circle cx="402.2" cy="1092.5" r="4.7" fill="url(#ac)"/><circle cx="291.2" cy="1129.3" r="5.1" fill="url(#ay)"/><circle cx="291.2" cy="1152" r="5.1" fill="url(#ay)"/><circle cx="311.1" cy="1129.3" r="5.1" fill="url(#ay)"/><circle cx="311.1" cy="1152" r="5.1" fill="url(#ay)"/><circle cx="331.1" cy="1129.3" r="5.1" fill="url(#ay)"/><circle cx="331.1" cy="1152" r="5.1" fill="url(#ay)"/><circle cx="351.0" cy="1129.3" r="5.1" fill="url(#ay)"/><circle cx="351.0" cy="1152" r="5.1" fill="url(#ay)"/><circle cx="370.9" cy="1129.3" r="5.1" fill="url(#ay)"/><circle cx="370.9" cy="1152" r="5.1" fill="url(#ay)"/><circle cx="390.9" cy="1129.3" r="5.1" fill="url(#ay)"/><circle cx="390.9" cy="1152" r="5.1" fill="url(#ay)"/><circle cx="410.8" cy="1129.3" r="5.1" fill="url(#ay)"/><circle cx="410.8" cy="1152" r="5.1" fill="url(#ay)"/><circle cx="430.7" cy="1129.3" r="5.1" fill="url(#ay)"/><circle cx="430.7" cy="1152" r="5.1" fill="url(#ay)"/><circle cx="450.6" cy="1129.3" r="5.1" fill="url(#ay)"/><circle cx="450.6" cy="1152" r="5.1" fill="url(#ay)"/><circle cx="470.6" cy="1129.3" r="5.1" fill="url(#ay)"/><circle cx="470.6" cy="1152" r="5.1" fill="url(#ay)"/><circle cx="490.5" cy="1129.3" r="5.1" fill="url(#ay)"/><circle cx="490.5" cy="1152" r="5.1" fill="url(#ay)"/><circle cx="510.4" cy="1129.3" r="5.1" fill="url(#ay)"/><circle cx="510.4" cy="1152" r="5.1" fill="url(#ay)"/><circle cx="284.6" cy="1140.7" r="5.1" fill="url(#ab)"/><circle cx="304.5" cy="1140.7" r="5.1" fill="url(#ab)"/><circle cx="324.4" cy="1140.7" r="5.1" fill="url(#ab)"/><circle cx="344.4" cy="1140.7" r="5.1" fill="url(#ab)"/><circle cx="364.3" cy="1140.7" r="5.1" fill="url(#ab)"/><circle cx="384.2" cy="1140.7" r="5.1" fill="url(#ab)"/><circle cx="404.1" cy="1140.7" r="5.1" fill="url(#ab)"/><circle cx="424.0" cy="1140.7" r="5.1" fill="url(#ab)"/><circle cx="444.0" cy="1140.7" r="5.1" fill="url(#ab)"/><circle cx="463.9" cy="1140.7" r="5.1" fill="url(#ab)"/><circle cx="483.8" cy="1140.7" r="5.1" fill="url(#ab)"/><circle cx="503.7" cy="1140.7" r="5.1" fill="url(#ab)"/>
<rect x="446" y="1196" width="151.7" height="151.5" fill="#020202" stroke="#9a9a9a" stroke-width="0.8"/>
<path d="M522.6,1197V1347M447,1272.1H597" stroke="#6e6e6e" stroke-width="0.9"/>
<radialGradient id="fs"><stop offset="0" stop-color="#fff"/><stop offset="0.35" stop-color="#ddd" stop-opacity="0.75"/><stop offset="1" stop-color="#fff" stop-opacity="0"/></radialGradient>
<circle cx="508" cy="1253" r="3.6" fill="url(#fs)" opacity="1"/><circle cx="532.3" cy="1248.8" r="3.6" fill="url(#fs)" opacity="1"/><circle cx="513.5" cy="1295.5" r="3.6" fill="url(#fs)" opacity="1"/><circle cx="537" cy="1291.4" r="3.6" fill="url(#fs)" opacity="1"/><circle cx="517.6" cy="1228.8" r="2.6" fill="url(#fs)" opacity="0.8"/><circle cx="483.8" cy="1256.3" r="2.6" fill="url(#fs)" opacity="0.8"/><circle cx="556" cy="1245" r="2.6" fill="url(#fs)" opacity="0.8"/><circle cx="488.7" cy="1299" r="2.6" fill="url(#fs)" opacity="0.8"/><circle cx="561.2" cy="1288.3" r="2.6" fill="url(#fs)" opacity="0.8"/><circle cx="527.4" cy="1316" r="2.6" fill="url(#fs)" opacity="0.8"/><circle cx="498.5" cy="1276" r="2.6" fill="url(#fs)" opacity="0.8"/><circle cx="546.9" cy="1268.3" r="2.6" fill="url(#fs)" opacity="0.8"/><circle cx="493" cy="1232.5" r="2" fill="url(#fs)" opacity="0.6"/><circle cx="541.8" cy="1224.3" r="2" fill="url(#fs)" opacity="0.5"/><circle cx="473.8" cy="1279.9" r="2" fill="url(#fs)" opacity="0.6"/><circle cx="502.9" cy="1319.3" r="2" fill="url(#fs)" opacity="0.6"/><circle cx="551.6" cy="1311.9" r="2" fill="url(#fs)" opacity="0.6"/><circle cx="571" cy="1264.6" r="2" fill="url(#fs)" opacity="0.6"/><circle cx="522.6" cy="1272.1" r="7" fill="url(#fs)"/>
<path d="M508,1272.1H538M522.6,1263V1281" stroke="#fff" stroke-width="1.4" opacity="0.85"/>
<path d="M508,1253v-6v12M532.3,1248.8v-6v12M513.5,1295.5v-6v12M537,1291.4v-6v12" stroke="#fff" stroke-width="0.8" opacity="0.5"/>
<text x="3.7" y="969.9" font-size="21" font-weight="bold">e</text>
<text x="528.6" y="1104.8" font-size="19.6" fill="#fff" textLength="55" lengthAdjust="spacingAndGlyphs">NbSe<tspan dy="6.27" font-size="11.37">2</tspan></text>
<text x="544.1" y="1147.7" font-size="20" fill="#fff" textLength="38" lengthAdjust="spacingAndGlyphs">WS<tspan dy="6.4" font-size="11.6">2</tspan></text>
<rect x="25.2" y="1325" width="43.8" height="6" fill="#000"/>
<text x="27.7" y="1320" font-size="17" textLength="36.7" lengthAdjust="spacingAndGlyphs">1 nm</text>
<path d="M670.6,950.6V1295.3H1208.5" fill="none" stroke="#111" stroke-width="1.9"/>
<path d="M670.6,1289.0h-7.3M670.6,1255.6h-3.8M670.6,1222.2h-7.3M670.6,1188.8h-3.8M670.6,1155.4h-7.3M670.6,1122.0h-3.8M670.6,1088.6h-7.3M670.6,1055.2h-3.8M670.6,1021.8h-7.3M670.6,988.4h-3.8M670.6,955.0h-7.3M718.3,1295.3v7M797.6,1295.3v7M876.9,1295.3v7M956.2,1295.3v7M1035.5,1295.3v7M1114.8,1295.3v7M1194.1,1295.3v7" stroke="#111" stroke-width="1.8"/>
<text x="660" y="1295.3" font-size="17.5" text-anchor="end">0</text>
<text x="660" y="1228.5" font-size="17.5" text-anchor="end">20</text>
<text x="660" y="1161.7" font-size="17.5" text-anchor="end">40</text>
<text x="660" y="1094.9" font-size="17.5" text-anchor="end">60</text>
<text x="660" y="1028.1" font-size="17.5" text-anchor="end">80</text>
<text x="718.6" y="1320.8" font-size="16" text-anchor="middle">0</text>
<text x="797.9" y="1320.8" font-size="16" text-anchor="middle">5</text>
<text x="877.2" y="1320.8" font-size="16" text-anchor="middle">10</text>
<text x="956.5" y="1320.8" font-size="16" text-anchor="middle">15</text>
<text x="1035.8" y="1320.8" font-size="16" text-anchor="middle">20</text>
<text x="1115.1" y="1320.8" font-size="16" text-anchor="middle">25</text>
<text x="1194.4" y="1320.8" font-size="16" text-anchor="middle">30</text>
<text x="849.3" y="1344" font-size="19.3" textLength="192" lengthAdjust="spacingAndGlyphs">Twist angle (degrees)</text>
<text x="0" y="0" font-size="21" textLength="138.9" lengthAdjust="spacingAndGlyphs" transform="translate(625.3,1191.4) rotate(-90)">Distribution (%)</text>
<text x="614.6" y="972.3" font-size="20" font-weight="bold">f</text>
<rect x="709.65" y="1200.16" width="16.3" height="94.84" fill="#04dc0e"/><rect x="709.65" y="1171.43" width="16.3" height="28.72" fill="#2242f0"/><rect x="709.65" y="1104.97" width="16.3" height="66.47" fill="#9a04c8"/><rect x="709.65" y="964.35" width="16.3" height="140.61" fill="#f0047c"/><rect x="773.09" y="1244.91" width="16.3" height="50.09" fill="#04dc0e"/><rect x="820.67" y="1283.99" width="16.3" height="11.01" fill="#f0047c"/><rect x="836.53" y="1241.91" width="16.3" height="53.09" fill="#9a04c8"/><rect x="852.39" y="1250.26" width="16.3" height="44.74" fill="#2242f0"/><rect x="931.69" y="1133.36" width="16.3" height="161.64" fill="#04dc0e"/><rect x="963.41" y="1249.92" width="16.3" height="45.08" fill="#2242f0"/><rect x="979.27" y="1283.99" width="16.3" height="11.01" fill="#f0047c"/><rect x="1042.71" y="1266.96" width="16.3" height="28.04" fill="#04dc0e"/><rect x="1042.71" y="1230.22" width="16.3" height="36.74" fill="#2242f0"/><rect x="1090.29" y="1266.96" width="16.3" height="28.04" fill="#04dc0e"/><rect x="1122.01" y="1186.80" width="16.3" height="108.20" fill="#9a04c8"/><rect x="1137.87" y="1210.51" width="16.3" height="84.49" fill="#2242f0"/>
<rect x="740.2" y="1110.4" width="11.6" height="11.2" fill="#f0047c"/><text x="765.8" y="1122" font-size="18.6" textLength="104" lengthAdjust="spacingAndGlyphs">MoS<tspan dy="4.2" font-size="10.79">2</tspan><tspan dy="-4.2">\MoSe</tspan><tspan dy="4.2" font-size="10.79">2</tspan></text>
<rect x="740.2" y="1144.4" width="11.6" height="11.2" fill="#2242f0"/><text x="765.8" y="1155.5" font-size="18.6" textLength="95.8" lengthAdjust="spacingAndGlyphs">WS<tspan dy="4.2" font-size="10.79">2</tspan><tspan dy="-4.2">\MoSe</tspan><tspan dy="4.2" font-size="10.79">2</tspan></text>
<rect x="740.2" y="1176.7" width="11.6" height="11.2" fill="#04dc0e"/><text x="765.8" y="1186.7" font-size="18.6" textLength="86" lengthAdjust="spacingAndGlyphs">WS<tspan dy="4.2" font-size="10.79">2</tspan><tspan dy="-4.2">\MoS</tspan><tspan dy="4.2" font-size="10.79">2</tspan></text>
<rect x="740.2" y="1207.9" width="11.6" height="11.2" fill="#9a04c8"/><text x="765.8" y="1217.8" font-size="18.6" textLength="93.5" lengthAdjust="spacingAndGlyphs">WS<tspan dy="4.2" font-size="10.79">2</tspan><tspan dy="-4.2">\NbSe</tspan><tspan dy="4.2" font-size="10.79">2</tspan></text>

<radialGradient id="fdot"><stop offset="0" stop-color="#fff"/><stop offset="0.4" stop-color="#e8e8e8" stop-opacity="0.9"/><stop offset="1" stop-color="#fff" stop-opacity="0"/></radialGradient>
<pattern id="la0" width="8.200" height="14.203" patternUnits="userSpaceOnUse" patternTransform="rotate(12)"><circle cx="0.00" cy="0.00" r="3.1" fill="url(#fdot)" opacity="0.72"/><circle cx="8.20" cy="0.00" r="3.1" fill="url(#fdot)" opacity="0.72"/><circle cx="4.10" cy="7.10" r="3.1" fill="url(#fdot)" opacity="0.72"/><circle cx="0.00" cy="14.20" r="3.1" fill="url(#fdot)" opacity="0.72"/><circle cx="8.20" cy="14.20" r="3.1" fill="url(#fdot)" opacity="0.72"/></pattern>
<pattern id="lb0" width="8.200" height="14.203" patternUnits="userSpaceOnUse" patternTransform="rotate(12) translate(4.10,2.37)"><circle cx="0.00" cy="0.00" r="2.8" fill="url(#fdot)" opacity="0.55"/><circle cx="8.20" cy="0.00" r="2.8" fill="url(#fdot)" opacity="0.55"/><circle cx="4.10" cy="7.10" r="2.8" fill="url(#fdot)" opacity="0.55"/><circle cx="0.00" cy="14.20" r="2.8" fill="url(#fdot)" opacity="0.55"/><circle cx="8.20" cy="14.20" r="2.8" fill="url(#fdot)" opacity="0.55"/></pattern>
<rect x="733.5" y="957" width="111.5" height="111.5" fill="#141414"/><rect x="733.5" y="957" width="111.5" height="111.5" fill="url(#la0)"/><rect x="733.5" y="957" width="111.5" height="111.5" fill="url(#lb0)"/><rect x="732.5" y="956.2" width="113.5" height="113.5" fill="none" stroke="#2a3090" stroke-width="1.8"/><rect x="812.2" y="1060.2" width="27.7" height="3.8" fill="#fff"/><text x="808.2" y="1054" font-size="15" fill="#fff" textLength="34.7" lengthAdjust="spacingAndGlyphs">1 nm</text>
<text x="783.6" y="1087.2" font-size="16.8">0°</text>

<pattern id="la1" width="8.200" height="14.203" patternUnits="userSpaceOnUse" patternTransform="rotate(12)"><circle cx="0.00" cy="0.00" r="3.1" fill="url(#fdot)" opacity="0.72"/><circle cx="8.20" cy="0.00" r="3.1" fill="url(#fdot)" opacity="0.72"/><circle cx="4.10" cy="7.10" r="3.1" fill="url(#fdot)" opacity="0.72"/><circle cx="0.00" cy="14.20" r="3.1" fill="url(#fdot)" opacity="0.72"/><circle cx="8.20" cy="14.20" r="3.1" fill="url(#fdot)" opacity="0.72"/></pattern>
<pattern id="lb1" width="8.446" height="14.629" patternUnits="userSpaceOnUse" patternTransform="rotate(19)"><circle cx="0.00" cy="0.00" r="2.7" fill="url(#fdot)" opacity="0.5"/><circle cx="8.45" cy="0.00" r="2.7" fill="url(#fdot)" opacity="0.5"/><circle cx="4.22" cy="7.31" r="2.7" fill="url(#fdot)" opacity="0.5"/><circle cx="0.00" cy="14.63" r="2.7" fill="url(#fdot)" opacity="0.5"/><circle cx="8.45" cy="14.63" r="2.7" fill="url(#fdot)" opacity="0.5"/></pattern>
<rect x="852.2" y="957" width="111.5" height="111.5" fill="#141414"/><rect x="852.2" y="957" width="111.5" height="111.5" fill="url(#la1)"/><rect x="852.2" y="957" width="111.5" height="111.5" fill="url(#lb1)"/><rect x="851.2" y="956.2" width="113.5" height="113.5" fill="none" stroke="#b02a68" stroke-width="1.8"/><rect x="930.9000000000001" y="1060.2" width="27.7" height="3.8" fill="#fff"/><text x="926.9" y="1054" font-size="15" fill="#fff" textLength="34.7" lengthAdjust="spacingAndGlyphs">1 nm</text>
<text x="905.5" y="1087.2" font-size="16.8">7°</text>

<pattern id="la2" width="8.200" height="14.203" patternUnits="userSpaceOnUse" patternTransform="rotate(12)"><circle cx="0.00" cy="0.00" r="3.1" fill="url(#fdot)" opacity="0.72"/><circle cx="8.20" cy="0.00" r="3.1" fill="url(#fdot)" opacity="0.72"/><circle cx="4.10" cy="7.10" r="3.1" fill="url(#fdot)" opacity="0.72"/><circle cx="0.00" cy="14.20" r="3.1" fill="url(#fdot)" opacity="0.72"/><circle cx="8.20" cy="14.20" r="3.1" fill="url(#fdot)" opacity="0.72"/></pattern>
<pattern id="lb2" width="8.446" height="14.629" patternUnits="userSpaceOnUse" patternTransform="rotate(26)"><circle cx="0.00" cy="0.00" r="2.7" fill="url(#fdot)" opacity="0.5"/><circle cx="8.45" cy="0.00" r="2.7" fill="url(#fdot)" opacity="0.5"/><circle cx="4.22" cy="7.31" r="2.7" fill="url(#fdot)" opacity="0.5"/><circle cx="0.00" cy="14.63" r="2.7" fill="url(#fdot)" opacity="0.5"/><circle cx="8.45" cy="14.63" r="2.7" fill="url(#fdot)" opacity="0.5"/></pattern>
<rect x="971.4" y="957" width="111.5" height="111.5" fill="#141414"/><rect x="971.4" y="957" width="111.5" height="111.5" fill="url(#la2)"/><rect x="971.4" y="957" width="111.5" height="111.5" fill="url(#lb2)"/><rect x="970.4" y="956.2" width="113.5" height="113.5" fill="none" stroke="#3a9e40" stroke-width="1.8"/><rect x="1050.1" y="1060.2" width="27.7" height="3.8" fill="#fff"/><text x="1046.1" y="1054" font-size="15" fill="#fff" textLength="34.7" lengthAdjust="spacingAndGlyphs">1 nm</text>
<text x="1025" y="1087.2" font-size="16.8">14°</text>

<pattern id="la3" width="8.200" height="14.203" patternUnits="userSpaceOnUse" patternTransform="rotate(12)"><circle cx="0.00" cy="0.00" r="3.1" fill="url(#fdot)" opacity="0.72"/><circle cx="8.20" cy="0.00" r="3.1" fill="url(#fdot)" opacity="0.72"/><circle cx="4.10" cy="7.10" r="3.1" fill="url(#fdot)" opacity="0.72"/><circle cx="0.00" cy="14.20" r="3.1" fill="url(#fdot)" opacity="0.72"/><circle cx="8.20" cy="14.20" r="3.1" fill="url(#fdot)" opacity="0.72"/></pattern>
<pattern id="lb3" width="8.446" height="14.629" patternUnits="userSpaceOnUse" patternTransform="rotate(38)"><circle cx="0.00" cy="0.00" r="2.7" fill="url(#fdot)" opacity="0.5"/><circle cx="8.45" cy="0.00" r="2.7" fill="url(#fdot)" opacity="0.5"/><circle cx="4.22" cy="7.31" r="2.7" fill="url(#fdot)" opacity="0.5"/><circle cx="0.00" cy="14.63" r="2.7" fill="url(#fdot)" opacity="0.5"/><circle cx="8.45" cy="14.63" r="2.7" fill="url(#fdot)" opacity="0.5"/></pattern>
<rect x="1090.3" y="957" width="111.5" height="111.5" fill="#141414"/><rect x="1090.3" y="957" width="111.5" height="111.5" fill="url(#la3)"/><rect x="1090.3" y="957" width="111.5" height="111.5" fill="url(#lb3)"/><rect x="1089.3" y="956.2" width="113.5" height="113.5" fill="none" stroke="#762a90" stroke-width="1.8"/><rect x="1169.0" y="1060.2" width="27.7" height="3.8" fill="#fff"/><text x="1165" y="1054" font-size="15" fill="#fff" textLength="34.7" lengthAdjust="spacingAndGlyphs">1 nm</text>
<text x="1146.3" y="1087.2" font-size="16.8">26°</text>


</svg>
</body></html>
